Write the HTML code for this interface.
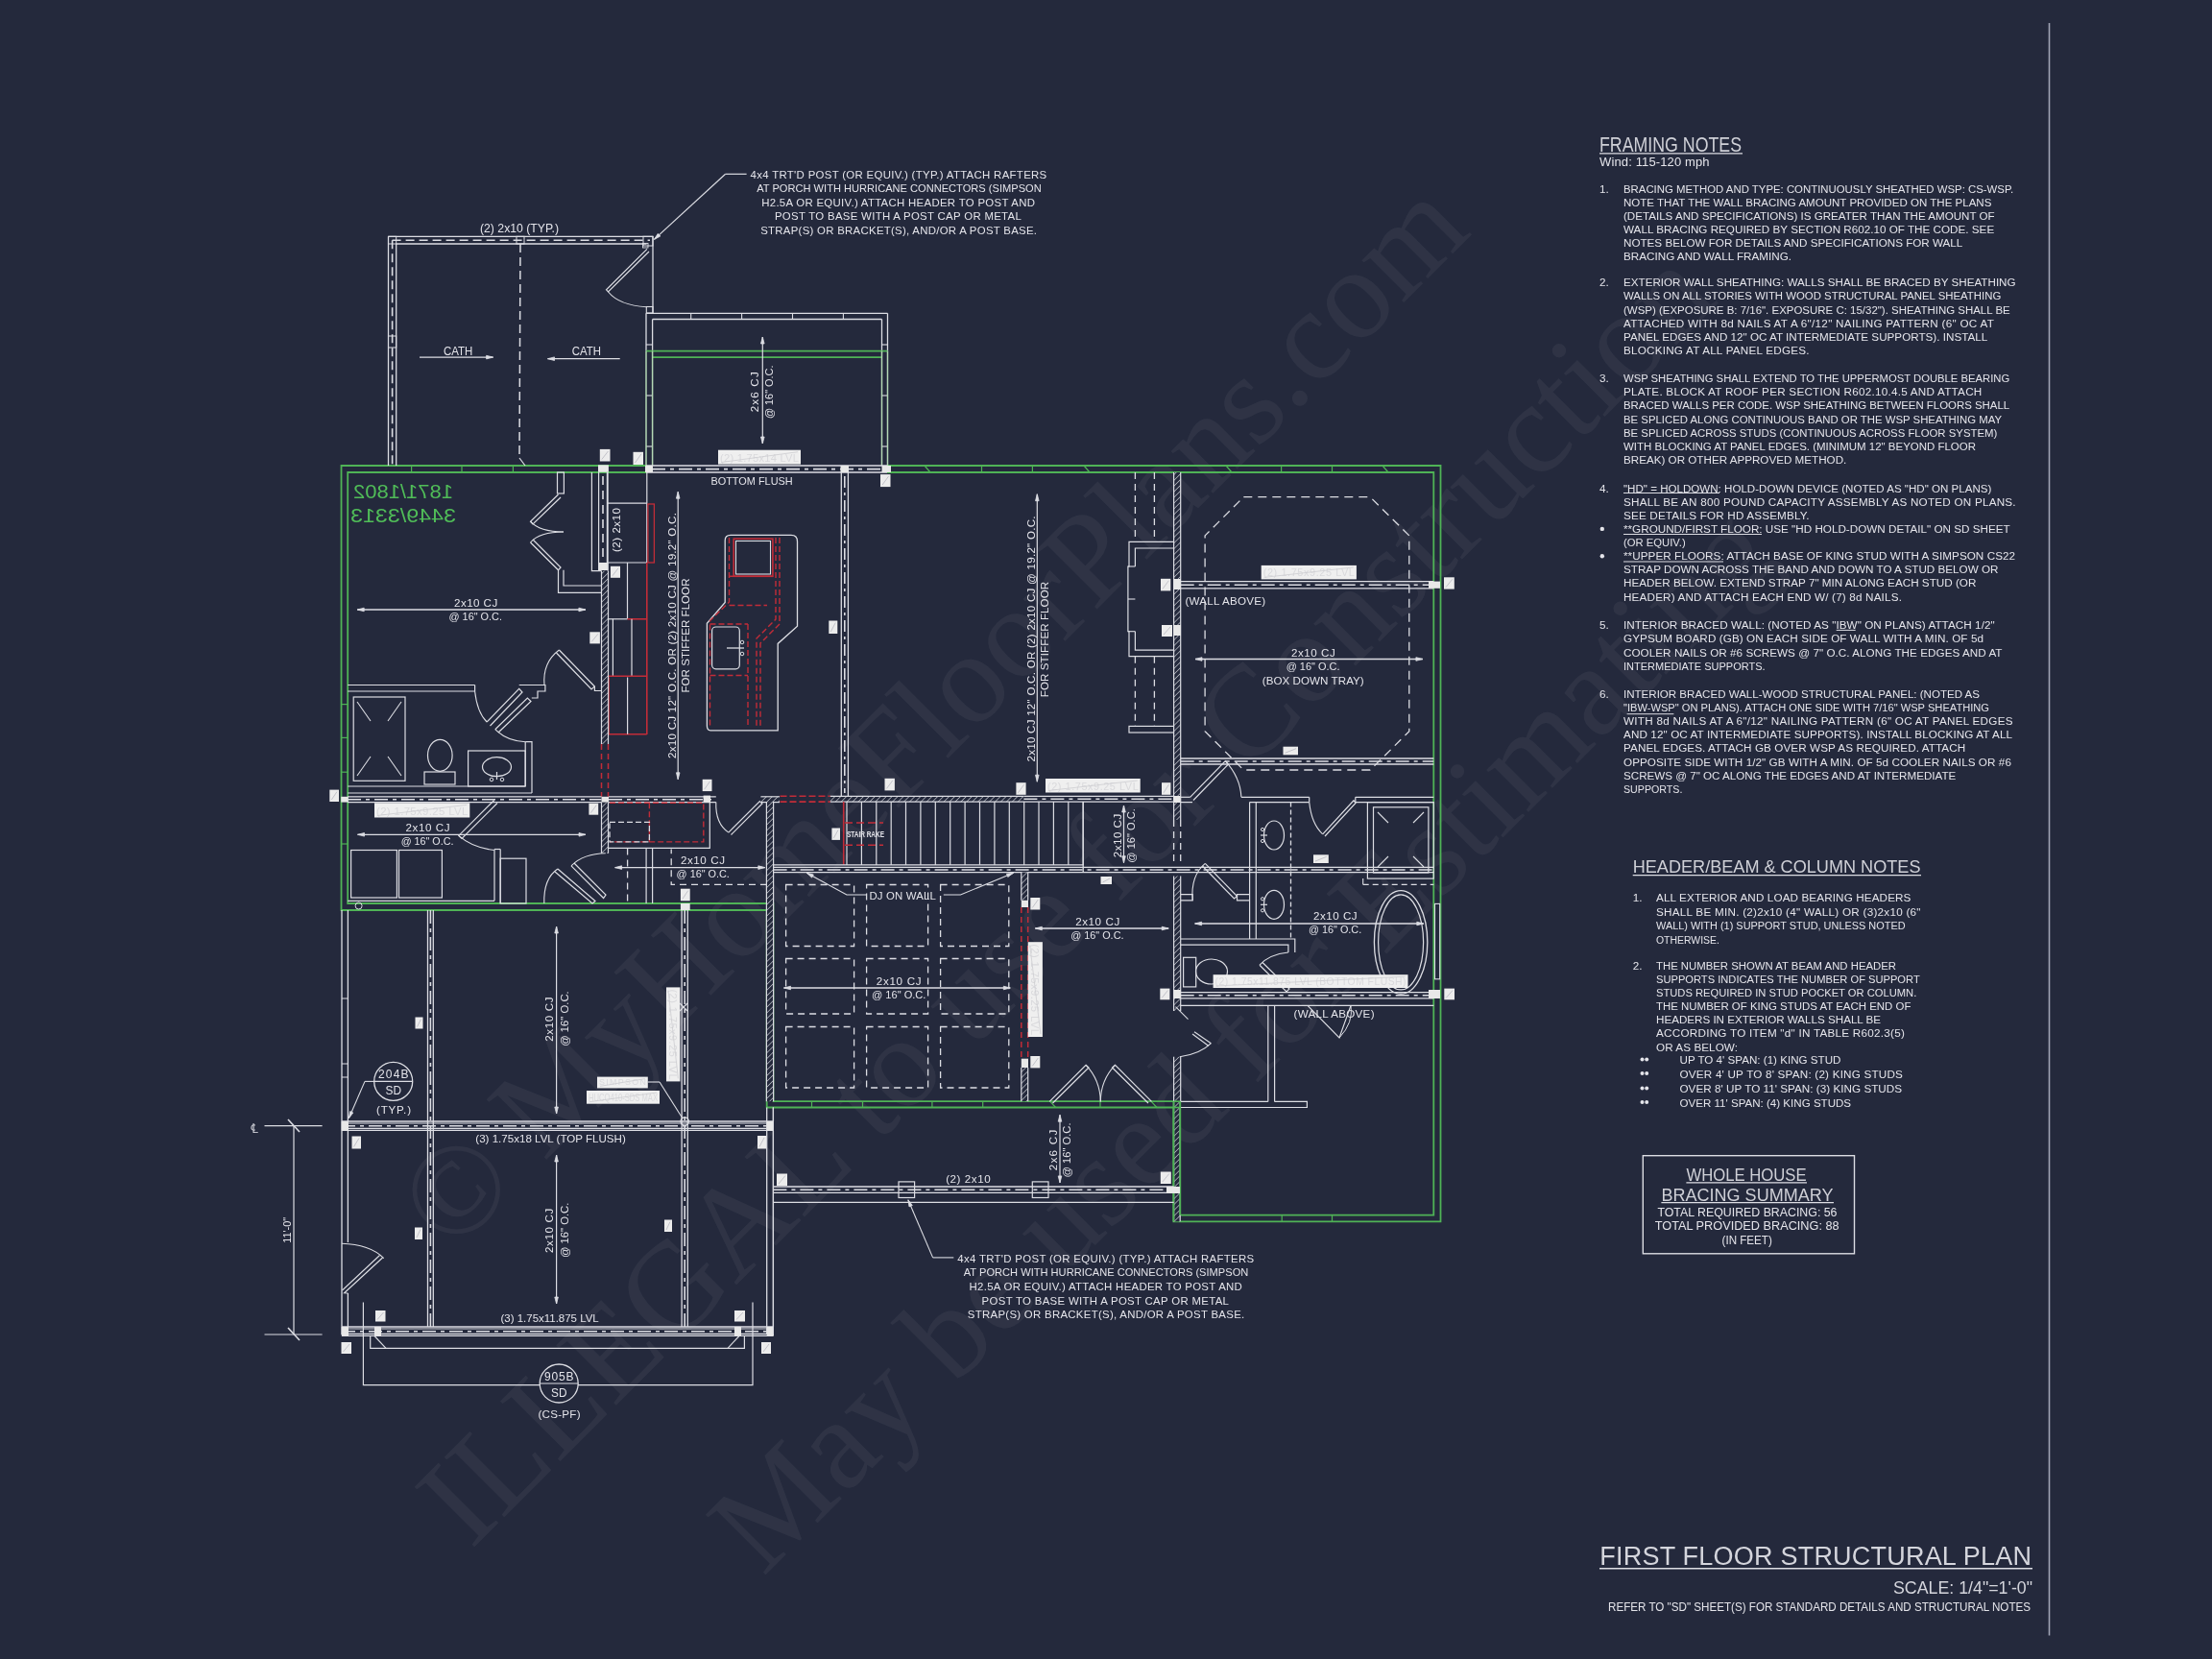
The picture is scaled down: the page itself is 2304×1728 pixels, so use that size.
<!DOCTYPE html>
<html><head><meta charset="utf-8"><style>
html,body{margin:0;padding:0;background:#24293c;width:2304px;height:1728px;overflow:hidden}
svg{display:block;will-change:transform}

</style></head><body>
<svg width="2304" height="1728" viewBox="0 0 2304 1728">
<defs>
<pattern id="hatch" patternUnits="userSpaceOnUse" width="4.2" height="4.2" patternTransform="rotate(45)">
<rect width="4.2" height="4.2" fill="#24293c"/><line x1="0" y1="0" x2="0" y2="4.2" stroke="#dcdde3" stroke-width="1.2"/></pattern>
</defs>
<rect width="2304" height="1728" fill="#24293c"/>
<text x="470.2" y="1307" font-size="135" fill="#ffffff" fill-opacity="0.052" font-family="Liberation Serif" transform="rotate(-45 470.2 1307)">© MyHomeFloorPlans.com</text>
<text x="490.7" y="1614.8" font-size="135" fill="#ffffff" fill-opacity="0.052" font-family="Liberation Serif" transform="rotate(-45 490.7 1614.8)">ILLEGAL to use for Construction</text>
<text x="794.7" y="1643" font-size="135" fill="#ffffff" fill-opacity="0.052" font-family="Liberation Serif" transform="rotate(-45 794.7 1643)">May be used for Estimating</text>
<polyline points="673.0,485.0 355.5,485.0 355.5,948.0 798.7,948.0 798.7,1153.5 1222.4,1153.5 1222.4,1272.3 1500.5,1272.3 1500.5,485.0 924.0,485.0" fill="none" stroke="#4fb356" stroke-width="1.8"/>
<polyline points="673.5,492.0 362.2,492.0 362.2,941.0 805.4,941.0 805.4,1147.2 1229.2,1147.2 1229.2,1265.7 1493.3,1265.7 1493.3,492.0 924.0,492.0" fill="none" stroke="#4fb356" stroke-width="1.8"/>
<line x1="428.6" y1="485.0" x2="428.6" y2="492.0" stroke="#4fb356" stroke-width="1.2"/>
<line x1="481.0" y1="485.0" x2="481.0" y2="492.0" stroke="#4fb356" stroke-width="1.2"/>
<line x1="534.4" y1="485.0" x2="534.4" y2="492.0" stroke="#4fb356" stroke-width="1.2"/>
<line x1="1022.5" y1="485.0" x2="1022.5" y2="492.0" stroke="#4fb356" stroke-width="1.2"/>
<line x1="1075.4" y1="485.0" x2="1075.4" y2="492.0" stroke="#4fb356" stroke-width="1.2"/>
<line x1="1334.6" y1="485.0" x2="1334.6" y2="492.0" stroke="#4fb356" stroke-width="1.2"/>
<line x1="1387.5" y1="485.0" x2="1387.5" y2="492.0" stroke="#4fb356" stroke-width="1.2"/>
<line x1="963.0" y1="485.0" x2="969.0" y2="492.0" stroke="#4fb356" stroke-width="1.2"/>
<line x1="1129.0" y1="485.0" x2="1135.0" y2="492.0" stroke="#4fb356" stroke-width="1.2"/>
<line x1="1277.0" y1="485.0" x2="1283.0" y2="492.0" stroke="#4fb356" stroke-width="1.2"/>
<line x1="1440.0" y1="485.0" x2="1446.0" y2="492.0" stroke="#4fb356" stroke-width="1.2"/>
<line x1="355.5" y1="733.6" x2="362.2" y2="733.6" stroke="#4fb356" stroke-width="1.2"/>
<line x1="355.5" y1="768.4" x2="362.2" y2="768.4" stroke="#4fb356" stroke-width="1.2"/>
<line x1="355.5" y1="804.2" x2="362.2" y2="804.2" stroke="#4fb356" stroke-width="1.2"/>
<line x1="355.5" y1="879.0" x2="362.2" y2="879.0" stroke="#4fb356" stroke-width="1.2"/>
<line x1="845.5" y1="1147.2" x2="845.5" y2="1153.5" stroke="#4fb356" stroke-width="1.2"/>
<line x1="898.5" y1="1147.2" x2="898.5" y2="1153.5" stroke="#4fb356" stroke-width="1.2"/>
<line x1="970.9" y1="1147.2" x2="970.9" y2="1153.5" stroke="#4fb356" stroke-width="1.2"/>
<line x1="1023.7" y1="1147.2" x2="1023.7" y2="1153.5" stroke="#4fb356" stroke-width="1.2"/>
<line x1="1146.0" y1="1147.2" x2="1146.0" y2="1153.5" stroke="#4fb356" stroke-width="1.2"/>
<line x1="1093.6" y1="1147.2" x2="1099.6" y2="1153.5" stroke="#4fb356" stroke-width="1.2"/>
<line x1="1199.0" y1="1147.2" x2="1205.0" y2="1153.5" stroke="#4fb356" stroke-width="1.2"/>
<line x1="1335.2" y1="1265.7" x2="1335.2" y2="1272.3" stroke="#4fb356" stroke-width="1.2"/>
<line x1="1387.5" y1="1265.7" x2="1387.5" y2="1272.3" stroke="#4fb356" stroke-width="1.2"/>
<line x1="404.5" y1="246.3" x2="680.4" y2="246.3" stroke="#dcdde3" stroke-width="1.3"/>
<line x1="404.5" y1="246.3" x2="404.5" y2="485.0" stroke="#dcdde3" stroke-width="1.3"/>
<line x1="412.7" y1="254.0" x2="673.6" y2="254.0" stroke="#dcdde3" stroke-width="1.3"/>
<line x1="412.7" y1="254.0" x2="412.7" y2="485.0" stroke="#dcdde3" stroke-width="1.3"/>
<line x1="408.6" y1="250.2" x2="677.0" y2="250.2" stroke="#dcdde3" stroke-width="1.6" stroke-dasharray="9 5"/>
<line x1="408.6" y1="250.2" x2="408.6" y2="485.0" stroke="#dcdde3" stroke-width="1.6" stroke-dasharray="9 5"/>
<rect x="404.5" y="246.3" width="8.2" height="7.7" fill="none" stroke="#dcdde3" stroke-width="1.0"/>
<rect x="670.0" y="246.3" width="10.0" height="9.7" fill="none" stroke="#dcdde3" stroke-width="1.0"/>
<rect x="669.5" y="253.4" width="5.5" height="4.6" fill="none" stroke="#dcdde3" stroke-width="0.9"/>
<rect x="538.0" y="246.3" width="8.0" height="7.7" fill="none" stroke="#dcdde3" stroke-width="1.0"/>
<line x1="680.0" y1="246.3" x2="680.0" y2="326.0" stroke="#dcdde3" stroke-width="1.3"/>
<rect x="673.3" y="319.5" width="6.7" height="6.5" fill="none" stroke="#dcdde3" stroke-width="1.1"/>
<rect x="404.5" y="350.0" width="8.2" height="12.0" fill="none" stroke="#dcdde3" stroke-width="1.0"/>
<line x1="542.0" y1="254.0" x2="541.0" y2="477.0" stroke="#dcdde3" stroke-width="1.5" stroke-dasharray="9 5"/>
<line x1="541.0" y1="477.0" x2="547.0" y2="485.0" stroke="#dcdde3" stroke-width="1.2"/>
<polyline points="674.0,259.4 631.5,301.8 633.5,304.0 676.0,262.0" fill="none" stroke="#dcdde3" stroke-width="1.2"/>
<path d="M 633.5 304 Q 645 318 673.3 319.7" fill="none" stroke="#dcdde3" stroke-width="1.1"/>
<text x="500.0" y="242.0" font-size="12.8" fill="#e4e4ea" font-family="Liberation Sans" font-weight="normal" text-anchor="start" textLength="82.0" lengthAdjust="spacingAndGlyphs">(2) 2x10 (TYP.)</text>
<text x="462.0" y="369.7" font-size="12.6" fill="#e4e4ea" font-family="Liberation Sans" font-weight="normal" text-anchor="start" textLength="30.4" lengthAdjust="spacingAndGlyphs">CATH</text>
<line x1="437.0" y1="372.1" x2="513.6" y2="372.1" stroke="#dcdde3" stroke-width="1.2"/>
<polygon points="513.6,372.1 506.6,373.9 506.6,370.3" fill="#dcdde3" stroke="#dcdde3" stroke-width="0.8"/>
<text x="595.8" y="369.7" font-size="12.6" fill="#e4e4ea" font-family="Liberation Sans" font-weight="normal" text-anchor="start" textLength="30.2" lengthAdjust="spacingAndGlyphs">CATH</text>
<line x1="645.7" y1="373.7" x2="570.5" y2="373.7" stroke="#dcdde3" stroke-width="1.2"/>
<polygon points="570.5,373.7 577.5,371.9 577.5,375.5" fill="#dcdde3" stroke="#dcdde3" stroke-width="0.8"/>
<line x1="755.6" y1="181.3" x2="777.6" y2="181.3" stroke="#dcdde3" stroke-width="1.2"/>
<line x1="755.6" y1="181.3" x2="681.4" y2="249.4" stroke="#dcdde3" stroke-width="1.2"/>
<polygon points="681.4,249.4 685.3,243.3 687.8,246.0" fill="#dcdde3" stroke="#dcdde3" stroke-width="0.8"/>
<text x="781.6" y="185.9" font-size="11.4" fill="#e4e4ea" font-family="Liberation Sans" font-weight="normal" text-anchor="start" textLength="308.6" lengthAdjust="spacing">4x4 TRT'D POST (OR EQUIV.) (TYP.) ATTACH RAFTERS</text>
<text x="788.2" y="200.4" font-size="11.4" fill="#e4e4ea" font-family="Liberation Sans" font-weight="normal" text-anchor="start" textLength="296.5" lengthAdjust="spacingAndGlyphs">AT PORCH WITH HURRICANE CONNECTORS (SIMPSON</text>
<text x="793.2" y="214.9" font-size="11.4" fill="#e4e4ea" font-family="Liberation Sans" font-weight="normal" text-anchor="start" textLength="284.8" lengthAdjust="spacing">H2.5A OR EQUIV.) ATTACH HEADER TO POST AND</text>
<text x="806.9" y="229.4" font-size="11.4" fill="#e4e4ea" font-family="Liberation Sans" font-weight="normal" text-anchor="start" textLength="256.9" lengthAdjust="spacing">POST TO BASE WITH A POST CAP OR METAL</text>
<text x="792.2" y="243.9" font-size="11.4" fill="#e4e4ea" font-family="Liberation Sans" font-weight="normal" text-anchor="start" textLength="287.8" lengthAdjust="spacing">STRAP(S) OR BRACKET(S), AND/OR A POST BASE.</text>
<line x1="673.0" y1="326.3" x2="924.5" y2="326.3" stroke="#dcdde3" stroke-width="1.3"/>
<line x1="679.6" y1="332.5" x2="918.5" y2="332.5" stroke="#dcdde3" stroke-width="1.3"/>
<line x1="673.0" y1="326.3" x2="673.0" y2="365.6" stroke="#dcdde3" stroke-width="1.3"/>
<line x1="924.5" y1="326.3" x2="924.5" y2="365.6" stroke="#dcdde3" stroke-width="1.3"/>
<line x1="679.6" y1="332.5" x2="679.6" y2="365.6" stroke="#dcdde3" stroke-width="1.3"/>
<line x1="918.5" y1="332.5" x2="918.5" y2="365.6" stroke="#dcdde3" stroke-width="1.3"/>
<line x1="719.7" y1="326.3" x2="719.7" y2="332.5" stroke="#dcdde3" stroke-width="1.1"/>
<line x1="772.6" y1="326.3" x2="772.6" y2="332.5" stroke="#dcdde3" stroke-width="1.1"/>
<line x1="825.5" y1="326.3" x2="825.5" y2="332.5" stroke="#dcdde3" stroke-width="1.1"/>
<line x1="878.4" y1="326.3" x2="878.4" y2="332.5" stroke="#dcdde3" stroke-width="1.1"/>
<line x1="673.0" y1="359.0" x2="679.6" y2="359.0" stroke="#dcdde3" stroke-width="1.1"/>
<line x1="918.5" y1="359.0" x2="924.5" y2="359.0" stroke="#dcdde3" stroke-width="1.1"/>
<line x1="673.0" y1="412.0" x2="679.6" y2="412.0" stroke="#dcdde3" stroke-width="1.1"/>
<line x1="918.5" y1="412.0" x2="924.5" y2="412.0" stroke="#dcdde3" stroke-width="1.1"/>
<line x1="673.0" y1="465.0" x2="679.6" y2="465.0" stroke="#dcdde3" stroke-width="1.1"/>
<line x1="918.5" y1="465.0" x2="924.5" y2="465.0" stroke="#dcdde3" stroke-width="1.1"/>
<line x1="673.0" y1="365.6" x2="924.5" y2="365.6" stroke="#4fb356" stroke-width="1.8"/>
<line x1="679.6" y1="372.1" x2="918.5" y2="372.1" stroke="#4fb356" stroke-width="1.8"/>
<line x1="673.0" y1="365.6" x2="673.0" y2="485.0" stroke="#b5d9b5" stroke-width="1.5"/>
<line x1="679.6" y1="365.6" x2="679.6" y2="485.0" stroke="#b5d9b5" stroke-width="1.5"/>
<line x1="924.5" y1="365.6" x2="924.5" y2="485.0" stroke="#b5d9b5" stroke-width="1.5"/>
<line x1="918.5" y1="365.6" x2="918.5" y2="485.0" stroke="#b5d9b5" stroke-width="1.5"/>
<line x1="794.3" y1="351.0" x2="794.3" y2="462.0" stroke="#dcdde3" stroke-width="1.2"/>
<polygon points="794.3,351.0 796.1,358.0 792.5,358.0" fill="#dcdde3" stroke="#dcdde3" stroke-width="0.8"/>
<polygon points="794.3,462.0 792.5,455.0 796.1,455.0" fill="#dcdde3" stroke="#dcdde3" stroke-width="0.8"/>
<rect x="748.0" y="468.7" width="86.0" height="14.9" fill="#efefef"/>
<text x="750.0" y="480.6" font-size="11.175000000000026" fill="#d9d9dc" font-family="Liberation Sans" font-weight="normal" text-anchor="start" textLength="82.0" lengthAdjust="spacing">(2) 1.75x14 LVL</text>
<line x1="751.0" y1="481.6" x2="831.0" y2="470.7" stroke="#cdcdd0" stroke-width="0.8"/>
<rect x="624.8" y="467.9" width="10.7" height="12.6" fill="#ececec"/>
<line x1="626.8" y1="478.5" x2="633.5" y2="469.9" stroke="#b8b8c0" stroke-width="0.8"/>
<rect x="659.5" y="470.8" width="10.5" height="13.2" fill="#ececec"/>
<line x1="661.5" y1="482.0" x2="668.0" y2="472.8" stroke="#b8b8c0" stroke-width="0.8"/>
<line x1="673.0" y1="485.0" x2="924.0" y2="485.0" stroke="#dcdde3" stroke-width="1.4"/>
<line x1="673.0" y1="492.0" x2="924.0" y2="492.0" stroke="#dcdde3" stroke-width="1.4"/>
<line x1="679.0" y1="488.6" x2="918.0" y2="488.6" stroke="#dcdde3" stroke-width="1.6" stroke-dasharray="14 5 4 5"/>
<rect x="672.0" y="485.0" width="8.0" height="7.0" fill="#e8e8e8"/>
<rect x="918.5" y="485.0" width="9.5" height="7.0" fill="#e8e8e8"/>
<rect x="917.0" y="494.1" width="10.5" height="13.0" fill="#ececec"/>
<line x1="919.0" y1="505.1" x2="925.5" y2="496.1" stroke="#b8b8c0" stroke-width="0.8"/>
<g transform="translate(790.4 408.3) rotate(-90)"><text x="-21.0" y="0" font-size="11.6" fill="#e4e4ea" font-family="Liberation Sans" textLength="42.0" lengthAdjust="spacing">2x6 CJ</text></g>
<g transform="translate(805.1 408.3) rotate(-90)"><text x="-27.8" y="0" font-size="11.6" fill="#e4e4ea" font-family="Liberation Sans" textLength="55.6" lengthAdjust="spacingAndGlyphs">@ 16" O.C.</text></g>
<g transform="translate(472.0 0) scale(-1 1)"><text x="0" y="518.8" font-size="20" fill="#50bd58" font-family="Liberation Sans" textLength="104.0" lengthAdjust="spacingAndGlyphs">1871/1802</text></g>
<g transform="translate(475.0 0) scale(-1 1)"><text x="0" y="544.0" font-size="20" fill="#50bd58" font-family="Liberation Sans" textLength="110.0" lengthAdjust="spacingAndGlyphs">3449/3313</text></g>
<rect x="580.5" y="492.0" width="6.9" height="22.0" fill="none" stroke="#dcdde3" stroke-width="1.2"/>
<polyline points="581.5,515.0 552.5,543.2 555.0,546.0 584.0,518.0" fill="none" stroke="#dcdde3" stroke-width="1.2"/>
<path d="M 552.5 543.2 Q 562 554 587 554" fill="none" stroke="#dcdde3" stroke-width="1.1"/>
<path d="M 552.5 565 Q 562 554 587 554" fill="none" stroke="#dcdde3" stroke-width="1.1"/>
<polyline points="552.5,565.0 581.5,593.8 584.0,591.0 555.0,562.0" fill="none" stroke="#dcdde3" stroke-width="1.2"/>
<polyline points="581.5,593.8 581.5,617.4 626.7,617.4" fill="none" stroke="#dcdde3" stroke-width="1.2"/>
<polyline points="587.0,593.8 587.0,610.0 626.7,610.0" fill="none" stroke="#dcdde3" stroke-width="1.2"/>
<polyline points="616.4,492.0 616.4,594.7 626.7,594.7" fill="none" stroke="#dcdde3" stroke-width="1.2"/>
<line x1="623.6" y1="492.0" x2="623.6" y2="594.0" stroke="#dcdde3" stroke-width="1.2"/>
<line x1="632.4" y1="492.0" x2="632.4" y2="594.0" stroke="#dcdde3" stroke-width="1.2"/>
<line x1="628.0" y1="496.0" x2="628.0" y2="590.0" stroke="#dcdde3" stroke-width="1.6" stroke-dasharray="9 6"/>
<rect x="623.0" y="484.3" width="10.9" height="7.5" fill="#e8e8e8"/>
<rect x="624.0" y="586.0" width="9.5" height="8.0" fill="#e8e8e8"/>
<line x1="633.1" y1="492.0" x2="633.1" y2="586.0" stroke="#dcdde3" stroke-width="1.2"/>
<line x1="673.8" y1="492.0" x2="673.8" y2="586.0" stroke="#dcdde3" stroke-width="1.2"/>
<line x1="633.1" y1="524.2" x2="673.8" y2="524.2" stroke="#dcdde3" stroke-width="1.2"/>
<line x1="633.1" y1="586.0" x2="673.8" y2="586.0" stroke="#dcdde3" stroke-width="1.2"/>
<g transform="translate(646.4 552.0) rotate(-90)"><text x="-23.0" y="0" font-size="11.6" fill="#e4e4ea" font-family="Liberation Sans" textLength="46.0" lengthAdjust="spacing">(2) 2x10</text></g>
<rect x="674.9" y="525.0" width="6.5" height="61.0" fill="none" stroke="#c22c38" stroke-width="1.3"/>
<line x1="653.5" y1="586.0" x2="653.5" y2="644.8" stroke="#dcdde3" stroke-width="1.2"/>
<line x1="633.1" y1="586.0" x2="633.1" y2="644.8" stroke="#dcdde3" stroke-width="1.2"/>
<line x1="633.1" y1="644.8" x2="653.5" y2="644.8" stroke="#dcdde3" stroke-width="1.2"/>
<line x1="653.5" y1="644.8" x2="673.8" y2="644.8" stroke="#c22c38" stroke-width="1.6"/>
<line x1="673.8" y1="586.0" x2="673.8" y2="765.0" stroke="#c22c38" stroke-width="1.6"/>
<line x1="638.4" y1="644.8" x2="638.4" y2="704.3" stroke="#dcdde3" stroke-width="1.2"/>
<line x1="658.0" y1="644.8" x2="658.0" y2="704.3" stroke="#dcdde3" stroke-width="1.2"/>
<line x1="633.1" y1="704.3" x2="673.8" y2="704.3" stroke="#c22c38" stroke-width="1.6"/>
<line x1="634.0" y1="705.4" x2="634.0" y2="764.7" stroke="#c22c38" stroke-width="1.6"/>
<line x1="634.0" y1="764.7" x2="673.8" y2="764.7" stroke="#c22c38" stroke-width="1.6"/>
<line x1="653.6" y1="705.4" x2="653.6" y2="764.7" stroke="#dcdde3" stroke-width="1.2"/>
<rect x="635.9" y="589.8" width="10.1" height="12.0" fill="#ececec"/>
<line x1="637.9" y1="599.8" x2="644.0" y2="591.8" stroke="#b8b8c0" stroke-width="0.8"/>
<rect x="614.3" y="658.3" width="10.6" height="12.1" fill="#ececec"/>
<line x1="616.3" y1="668.4" x2="622.9" y2="660.3" stroke="#b8b8c0" stroke-width="0.8"/>
<rect x="626.5" y="658.0" width="6.5" height="9.0" fill="#e8e8e8"/>
<rect x="626.5" y="594.7" width="7.0" height="180.3" fill="url(#hatch)"/>
<line x1="626.5" y1="594.7" x2="626.5" y2="775.0" stroke="#dcdde3" stroke-width="1.2"/>
<line x1="633.5" y1="594.7" x2="633.5" y2="775.0" stroke="#dcdde3" stroke-width="1.2"/>
<line x1="626.5" y1="775.0" x2="626.5" y2="829.8" stroke="#c22c38" stroke-width="1.5" stroke-dasharray="6 4"/>
<line x1="633.5" y1="775.0" x2="633.5" y2="829.8" stroke="#c22c38" stroke-width="1.5" stroke-dasharray="6 4"/>
<rect x="626.5" y="835.6" width="7.0" height="53.2" fill="url(#hatch)"/>
<line x1="626.5" y1="835.6" x2="626.5" y2="888.8" stroke="#dcdde3" stroke-width="1.2"/>
<line x1="633.5" y1="835.6" x2="633.5" y2="888.8" stroke="#dcdde3" stroke-width="1.2"/>
<rect x="626.5" y="829.8" width="7.5" height="5.8" fill="#e8e8e8"/>
<text x="473.0" y="631.8" font-size="11.6" fill="#e4e4ea" font-family="Liberation Sans" font-weight="normal" text-anchor="start" textLength="45.2" lengthAdjust="spacing">2x10 CJ</text>
<line x1="372.2" y1="635.0" x2="609.9" y2="635.0" stroke="#dcdde3" stroke-width="1.3"/>
<polygon points="609.9,635.0 602.9,636.8 602.9,633.2" fill="#dcdde3" stroke="#dcdde3" stroke-width="0.8"/>
<polygon points="372.2,635.0 379.2,633.2 379.2,636.8" fill="#dcdde3" stroke="#dcdde3" stroke-width="0.8"/>
<text x="467.5" y="646.3" font-size="11.6" fill="#e4e4ea" font-family="Liberation Sans" font-weight="normal" text-anchor="start" textLength="55.5" lengthAdjust="spacingAndGlyphs">@ 16" O.C.</text>
<polyline points="582.4,677.0 619.4,715.0 616.0,718.0 579.5,680.0" fill="none" stroke="#dcdde3" stroke-width="1.2"/>
<path d="M 582.4 677 Q 565 690 567 713.5" fill="none" stroke="#dcdde3" stroke-width="1.1"/>
<polyline points="619.4,715.0 619.4,719.5 626.5,719.5" fill="none" stroke="#dcdde3" stroke-width="1.2"/>
<line x1="362.2" y1="713.5" x2="494.6" y2="713.5" stroke="#dcdde3" stroke-width="1.2"/>
<line x1="362.2" y1="720.0" x2="494.6" y2="720.0" stroke="#dcdde3" stroke-width="1.2"/>
<line x1="494.6" y1="713.5" x2="494.6" y2="720.0" stroke="#dcdde3" stroke-width="1.2"/>
<path d="M 494.6 720 Q 497 742 507.1 752" fill="none" stroke="#dcdde3" stroke-width="1.1"/>
<polyline points="507.1,752.0 540.7,717.4 544.0,721.0 510.5,756.0" fill="none" stroke="#dcdde3" stroke-width="1.2"/>
<polyline points="540.7,713.5 567.9,713.5 567.9,720.0 560.0,720.0 560.0,727.0 553.8,727.0" fill="none" stroke="#dcdde3" stroke-width="1.2"/>
<polyline points="515.8,759.7 549.4,727.1 553.0,730.5 519.0,763.0" fill="none" stroke="#dcdde3" stroke-width="1.2"/>
<path d="M 515.8 759.7 Q 528 772 547.2 772.7" fill="none" stroke="#dcdde3" stroke-width="1.1"/>
<polyline points="547.2,772.7 554.0,772.7 554.0,826.0" fill="none" stroke="#dcdde3" stroke-width="1.2"/>
<line x1="547.2" y1="772.7" x2="547.2" y2="819.0" stroke="#dcdde3" stroke-width="1.2"/>
<line x1="362.2" y1="819.0" x2="547.2" y2="819.0" stroke="#dcdde3" stroke-width="1.2"/>
<line x1="362.2" y1="826.0" x2="554.0" y2="826.0" stroke="#dcdde3" stroke-width="1.2"/>
<rect x="368.2" y="726.0" width="53.8" height="87.3" fill="none" stroke="#dcdde3" stroke-width="1.2"/>
<line x1="372.0" y1="731.0" x2="386.0" y2="751.0" stroke="#dcdde3" stroke-width="1.1"/>
<line x1="418.0" y1="731.0" x2="404.0" y2="751.0" stroke="#dcdde3" stroke-width="1.1"/>
<line x1="372.0" y1="808.0" x2="386.0" y2="788.0" stroke="#dcdde3" stroke-width="1.1"/>
<line x1="418.0" y1="808.0" x2="404.0" y2="788.0" stroke="#dcdde3" stroke-width="1.1"/>
<ellipse cx="458.3" cy="786.8" rx="12.8" ry="16.5" fill="none" stroke="#dcdde3" stroke-width="1.2"/>
<rect x="442.0" y="804.0" width="32.0" height="13.0" fill="none" stroke="#dcdde3" stroke-width="1.2"/>
<rect x="487.6" y="782.0" width="59.6" height="37.0" fill="none" stroke="#dcdde3" stroke-width="1.2"/>
<ellipse cx="517.5" cy="798.7" rx="15.0" ry="10.0" fill="none" stroke="#dcdde3" stroke-width="1.2"/>
<line x1="517.5" y1="804.0" x2="517.5" y2="812.0" stroke="#dcdde3" stroke-width="1.2"/>
<circle cx="512.0" cy="812.0" r="1.8" fill="none" stroke="#dcdde3" stroke-width="1"/>
<circle cx="523.0" cy="812.0" r="1.8" fill="none" stroke="#dcdde3" stroke-width="1"/>
<rect x="343.3" y="822.6" width="9.7" height="12.4" fill="#ececec"/>
<line x1="345.3" y1="833.0" x2="351.0" y2="824.6" stroke="#b8b8c0" stroke-width="0.8"/>
<rect x="355.2" y="829.8" width="7.6" height="5.8" fill="#e8e8e8"/>
<line x1="362.0" y1="829.8" x2="626.5" y2="829.8" stroke="#dcdde3" stroke-width="1.3"/>
<line x1="362.0" y1="835.6" x2="626.5" y2="835.6" stroke="#dcdde3" stroke-width="1.3"/>
<line x1="362.0" y1="832.7" x2="626.5" y2="832.7" stroke="#dcdde3" stroke-width="1.6" stroke-dasharray="14 5 4 5"/>
<line x1="634.0" y1="829.8" x2="745.8" y2="829.8" stroke="#dcdde3" stroke-width="1.3"/>
<line x1="634.0" y1="835.6" x2="745.8" y2="835.6" stroke="#dcdde3" stroke-width="1.3"/>
<line x1="634.0" y1="832.7" x2="745.8" y2="832.7" stroke="#dcdde3" stroke-width="1.6" stroke-dasharray="14 5 4 5"/>
<rect x="390.0" y="836.3" width="99.3" height="15.2" fill="#efefef"/>
<text x="392.0" y="848.5" font-size="11.400000000000034" fill="#d9d9dc" font-family="Liberation Sans" font-weight="normal" text-anchor="start" textLength="95.3" lengthAdjust="spacing">(2) 1.75x9.25 LVL</text>
<line x1="393.0" y1="849.5" x2="486.3" y2="838.3" stroke="#cdcdd0" stroke-width="0.8"/>
<rect x="613.4" y="836.7" width="9.8" height="12.0" fill="#ececec"/>
<line x1="615.4" y1="846.7" x2="621.2" y2="838.7" stroke="#b8b8c0" stroke-width="0.8"/>
<rect x="365.6" y="885.5" width="47.8" height="49.5" fill="none" stroke="#dcdde3" stroke-width="1.2"/>
<rect x="415.5" y="885.5" width="44.9" height="49.5" fill="none" stroke="#dcdde3" stroke-width="1.2"/>
<line x1="362.2" y1="938.3" x2="515.0" y2="938.3" stroke="#dcdde3" stroke-width="1.2"/>
<line x1="515.0" y1="884.5" x2="515.0" y2="938.3" stroke="#dcdde3" stroke-width="1.2"/>
<line x1="521.2" y1="884.5" x2="521.2" y2="941.0" stroke="#dcdde3" stroke-width="1.2"/>
<line x1="515.0" y1="884.5" x2="521.2" y2="884.5" stroke="#dcdde3" stroke-width="1.2"/>
<rect x="521.2" y="894.2" width="26.8" height="46.8" fill="none" stroke="#dcdde3" stroke-width="1.2"/>
<polyline points="514.7,833.5 477.8,870.4 481.0,873.5 518.0,836.5" fill="none" stroke="#dcdde3" stroke-width="1.2"/>
<path d="M 477.8 870.4 Q 492 883 514.7 885.5" fill="none" stroke="#dcdde3" stroke-width="1.1"/>
<circle cx="373.6" cy="943.5" r="3.5" fill="none" stroke="#dcdde3" stroke-width="1.0"/>
<text x="422.5" y="866.0" font-size="11.6" fill="#e4e4ea" font-family="Liberation Sans" font-weight="normal" text-anchor="start" textLength="46.0" lengthAdjust="spacing">2x10 CJ</text>
<line x1="372.5" y1="869.3" x2="610.0" y2="869.3" stroke="#dcdde3" stroke-width="1.3"/>
<polygon points="610.0,869.3 603.0,871.1 603.0,867.5" fill="#dcdde3" stroke="#dcdde3" stroke-width="0.8"/>
<polygon points="372.5,869.3 379.5,867.5 379.5,871.1" fill="#dcdde3" stroke="#dcdde3" stroke-width="0.8"/>
<text x="417.7" y="880.0" font-size="11.6" fill="#e4e4ea" font-family="Liberation Sans" font-weight="normal" text-anchor="start" textLength="54.7" lengthAdjust="spacingAndGlyphs">@ 16" O.C.</text>
<path d="M 566.8 941 Q 566 915 580.9 905" fill="none" stroke="#dcdde3" stroke-width="1.1"/>
<polyline points="580.9,905.0 620.0,938.5 617.0,941.0 578.0,908.0" fill="none" stroke="#dcdde3" stroke-width="1.2"/>
<path d="M 595 901.8 Q 608 889 630.8 888.8" fill="none" stroke="#dcdde3" stroke-width="1.1"/>
<polyline points="595.0,901.8 628.6,935.5 631.0,932.0 598.0,899.0" fill="none" stroke="#dcdde3" stroke-width="1.2"/>
<text x="740.4" y="504.7" font-size="11.6" fill="#e4e4ea" font-family="Liberation Sans" font-weight="normal" text-anchor="start" textLength="85.3" lengthAdjust="spacingAndGlyphs">BOTTOM FLUSH</text>
<g transform="translate(703.6 662.0) rotate(-90)"><text x="-127.9" y="0" font-size="11.6" fill="#e4e4ea" font-family="Liberation Sans" textLength="255.8" lengthAdjust="spacing">2x10 CJ 12" O.C. OR (2) 2x10 CJ @ 19.2" O.C.</text></g>
<g transform="translate(717.9 662.0) rotate(-90)"><text x="-59.5" y="0" font-size="11.6" fill="#e4e4ea" font-family="Liberation Sans" textLength="119.0" lengthAdjust="spacingAndGlyphs">FOR STIFFER FLOOR</text></g>
<line x1="706.2" y1="512.2" x2="706.2" y2="811.8" stroke="#dcdde3" stroke-width="1.2"/>
<polygon points="706.2,512.2 708.0,519.2 704.4,519.2" fill="#dcdde3" stroke="#dcdde3" stroke-width="0.8"/>
<polygon points="706.2,811.8 704.4,804.8 708.0,804.8" fill="#dcdde3" stroke="#dcdde3" stroke-width="0.8"/>
<path d="M 755.2 627.5 L 755.2 563 Q 755.2 557.4 761 557.4 L 824 557.4 Q 830.5 557.4 830.5 564 L 830.5 652.3 L 810.2 670.4 L 810.2 760.8 L 740 760.8 Q 736.4 760.8 736.4 756 L 736.4 649.3 Z" fill="none" stroke="#dcdde3" stroke-width="1.3"/>
<rect x="764.2" y="561.2" width="40.7" height="39.1" fill="none" stroke="#c22c38" stroke-width="1.6"/>
<rect x="766.5" y="563.5" width="36.0" height="34.5" fill="none" stroke="#dcdde3" stroke-width="1.1"/>
<path d="M 759.5 560 L 759.5 627 L 739.5 646.5 L 739.5 757" fill="none" stroke="#c22c38" stroke-width="1.4" stroke-dasharray="6 3"/>
<path d="M 808 560 L 808 645 L 788 665 L 788 757" fill="none" stroke="#c22c38" stroke-width="1.4" stroke-dasharray="6 3"/>
<path d="M 812 560 L 812 650 L 792 670 L 792 757" fill="none" stroke="#c22c38" stroke-width="1.4" stroke-dasharray="6 3"/>
<line x1="759.5" y1="600.3" x2="804.9" y2="600.3" stroke="#c22c38" stroke-width="1.4"/>
<line x1="759.5" y1="630.5" x2="799.0" y2="630.5" stroke="#c22c38" stroke-width="1.4" stroke-dasharray="6 3"/>
<line x1="739.5" y1="650.0" x2="779.0" y2="650.0" stroke="#c22c38" stroke-width="1.4" stroke-dasharray="6 3"/>
<line x1="739.5" y1="703.5" x2="779.0" y2="703.5" stroke="#c22c38" stroke-width="1.4" stroke-dasharray="6 3"/>
<line x1="779.0" y1="650.0" x2="779.0" y2="757.0" stroke="#c22c38" stroke-width="1.4" stroke-dasharray="6 3"/>
<rect x="741.6" y="653.0" width="28.7" height="43.8" fill="none" stroke="#dcdde3" stroke-width="1.2" rx="4"/>
<line x1="757.0" y1="675.0" x2="775.0" y2="675.0" stroke="#dcdde3" stroke-width="1.3"/>
<circle cx="773.0" cy="669.0" r="1.8" fill="none" stroke="#dcdde3" stroke-width="1"/>
<circle cx="773.0" cy="681.0" r="1.8" fill="none" stroke="#dcdde3" stroke-width="1"/>
<line x1="876.3" y1="492.0" x2="876.3" y2="830.0" stroke="#dcdde3" stroke-width="1.3"/>
<line x1="883.4" y1="492.0" x2="883.4" y2="830.0" stroke="#dcdde3" stroke-width="1.3"/>
<line x1="879.8" y1="496.0" x2="879.8" y2="826.0" stroke="#dcdde3" stroke-width="1.6" stroke-dasharray="12 5 3 5"/>
<rect x="875.5" y="485.0" width="8.5" height="7.0" fill="#e8e8e8"/>
<rect x="863.3" y="646.5" width="9.0" height="13.5" fill="#ececec"/>
<line x1="865.3" y1="658.0" x2="870.3" y2="648.5" stroke="#b8b8c0" stroke-width="0.8"/>
<g transform="translate(1078.0 665.5) rotate(-90)"><text x="-128.0" y="0" font-size="11.6" fill="#e4e4ea" font-family="Liberation Sans" textLength="256.0" lengthAdjust="spacing">2x10 CJ 12" O.C. OR (2) 2x10 CJ @ 19.2" O.C.</text></g>
<g transform="translate(1091.6 666.0) rotate(-90)"><text x="-60.2" y="0" font-size="11.6" fill="#e4e4ea" font-family="Liberation Sans" textLength="120.4" lengthAdjust="spacing">FOR STIFFER FLOOR</text></g>
<line x1="1080.3" y1="514.7" x2="1080.3" y2="814.2" stroke="#dcdde3" stroke-width="1.2"/>
<polygon points="1080.3,514.7 1082.1,521.7 1078.5,521.7" fill="#dcdde3" stroke="#dcdde3" stroke-width="0.8"/>
<polygon points="1080.3,814.2 1078.5,807.2 1082.1,807.2" fill="#dcdde3" stroke="#dcdde3" stroke-width="0.8"/>
<rect x="1089.0" y="811.0" width="98.7" height="14.5" fill="#efefef"/>
<text x="1091.0" y="822.5" font-size="10.875" fill="#d9d9dc" font-family="Liberation Sans" font-weight="normal" text-anchor="start" textLength="94.7" lengthAdjust="spacing">(2) 1.75x9.25 LVL</text>
<line x1="1092.0" y1="823.5" x2="1184.7" y2="813.0" stroke="#cdcdd0" stroke-width="0.8"/>
<rect x="921.5" y="810.8" width="10.4" height="12.6" fill="#ececec"/>
<line x1="923.5" y1="821.4" x2="929.9" y2="812.8" stroke="#b8b8c0" stroke-width="0.8"/>
<rect x="921.4" y="829.0" width="10.4" height="6.3" fill="#e8e8e8"/>
<rect x="1058.4" y="815.2" width="10.2" height="12.6" fill="#ececec"/>
<line x1="1060.4" y1="825.8" x2="1066.6" y2="817.2" stroke="#b8b8c0" stroke-width="0.8"/>
<rect x="1210.0" y="815.2" width="9.4" height="12.6" fill="#ececec"/>
<line x1="1212.0" y1="825.8" x2="1217.4" y2="817.2" stroke="#b8b8c0" stroke-width="0.8"/>
<line x1="1182.4" y1="492.0" x2="1182.4" y2="564.4" stroke="#dcdde3" stroke-width="1.3" stroke-dasharray="7 5"/>
<line x1="1202.4" y1="492.0" x2="1202.4" y2="564.4" stroke="#dcdde3" stroke-width="1.3" stroke-dasharray="7 5"/>
<line x1="1182.4" y1="683.7" x2="1182.4" y2="756.4" stroke="#dcdde3" stroke-width="1.3" stroke-dasharray="7 5"/>
<line x1="1202.4" y1="683.7" x2="1202.4" y2="756.4" stroke="#dcdde3" stroke-width="1.3" stroke-dasharray="7 5"/>
<polyline points="1222.6,564.4 1176.0,564.4 1176.0,590.0 1174.9,590.0 1174.9,657.7 1176.0,657.7 1176.0,683.7 1222.6,683.7" fill="none" stroke="#dcdde3" stroke-width="1.2"/>
<polyline points="1222.6,571.0 1182.4,571.0 1182.4,590.0" fill="none" stroke="#dcdde3" stroke-width="1.2"/>
<polyline points="1182.4,657.7 1182.4,677.2 1222.6,677.2" fill="none" stroke="#dcdde3" stroke-width="1.2"/>
<line x1="1174.9" y1="590.0" x2="1182.4" y2="590.0" stroke="#dcdde3" stroke-width="1.1"/>
<line x1="1174.9" y1="657.7" x2="1182.4" y2="657.7" stroke="#dcdde3" stroke-width="1.1"/>
<line x1="1175.0" y1="624.0" x2="1182.4" y2="624.0" stroke="#dcdde3" stroke-width="1.1"/>
<rect x="1176.0" y="756.4" width="46.6" height="6.6" fill="none" stroke="#dcdde3" stroke-width="1.2"/>
<rect x="1222.6" y="492.0" width="7.1" height="362.0" fill="url(#hatch)"/>
<line x1="1222.6" y1="492.0" x2="1222.6" y2="854.0" stroke="#dcdde3" stroke-width="1.2"/>
<line x1="1229.7" y1="492.0" x2="1229.7" y2="854.0" stroke="#dcdde3" stroke-width="1.2"/>
<line x1="1222.6" y1="854.0" x2="1222.6" y2="899.4" stroke="#dcdde3" stroke-width="1.3" stroke-dasharray="7 5"/>
<line x1="1229.7" y1="854.0" x2="1229.7" y2="899.4" stroke="#dcdde3" stroke-width="1.3" stroke-dasharray="7 5"/>
<rect x="1222.6" y="912.5" width="7.1" height="140.5" fill="url(#hatch)"/>
<line x1="1222.6" y1="912.5" x2="1222.6" y2="1053.0" stroke="#dcdde3" stroke-width="1.2"/>
<line x1="1229.7" y1="912.5" x2="1229.7" y2="1053.0" stroke="#dcdde3" stroke-width="1.2"/>
<rect x="1222.6" y="1100.8" width="7.1" height="46.4" fill="url(#hatch)"/>
<line x1="1222.6" y1="1100.8" x2="1222.6" y2="1147.2" stroke="#dcdde3" stroke-width="1.2"/>
<line x1="1229.7" y1="1100.8" x2="1229.7" y2="1147.2" stroke="#dcdde3" stroke-width="1.2"/>
<rect x="1222.6" y="829.0" width="7.1" height="7.0" fill="#e8e8e8"/>
<rect x="1209.0" y="602.8" width="10.3" height="12.6" fill="#ececec"/>
<line x1="1211.0" y1="613.4" x2="1217.3" y2="604.8" stroke="#b8b8c0" stroke-width="0.8"/>
<rect x="1210.0" y="651.0" width="11.0" height="12.0" fill="#ececec"/>
<line x1="1212.0" y1="661.0" x2="1219.0" y2="653.0" stroke="#b8b8c0" stroke-width="0.8"/>
<rect x="1222.6" y="603.0" width="7.4" height="11.0" fill="#e8e8e8"/>
<rect x="1222.6" y="651.0" width="7.4" height="11.0" fill="#e8e8e8"/>
<polygon points="1295.3,517.7 1427.2,517.7 1467.8,557.9 1467.8,761.8 1427.2,802.0 1295.3,802.0 1255.1,761.8 1255.1,557.9" fill="none" stroke="#dcdde3" stroke-width="1.3" stroke-dasharray="9 6"/>
<line x1="1229.7" y1="605.6" x2="1493.3" y2="605.6" stroke="#dcdde3" stroke-width="1.3"/>
<line x1="1229.7" y1="612.8" x2="1493.3" y2="612.8" stroke="#dcdde3" stroke-width="1.3"/>
<line x1="1229.7" y1="609.2" x2="1493.3" y2="609.2" stroke="#dcdde3" stroke-width="1.6" stroke-dasharray="14 5 4 5"/>
<rect x="1313.7" y="588.9" width="99.2" height="14.5" fill="#efefef"/>
<text x="1315.7" y="600.4" font-size="10.875" fill="#d9d9dc" font-family="Liberation Sans" font-weight="normal" text-anchor="start" textLength="95.2" lengthAdjust="spacing">(2) 1.75x9.25 LVL</text>
<line x1="1316.7" y1="601.4" x2="1409.9" y2="590.9" stroke="#cdcdd0" stroke-width="0.8"/>
<rect x="1488.0" y="605.6" width="12.0" height="7.2" fill="#e8e8e8"/>
<rect x="1504.0" y="601.3" width="10.8" height="12.3" fill="#ececec"/>
<line x1="1506.0" y1="611.6" x2="1512.8" y2="603.3" stroke="#b8b8c0" stroke-width="0.8"/>
<text x="1234.5" y="630.0" font-size="11.6" fill="#e4e4ea" font-family="Liberation Sans" font-weight="normal" text-anchor="start" textLength="83.5" lengthAdjust="spacing">(WALL ABOVE)</text>
<text x="1345.0" y="683.7" font-size="11.6" fill="#e4e4ea" font-family="Liberation Sans" font-weight="normal" text-anchor="start" textLength="45.7" lengthAdjust="spacing">2x10 CJ</text>
<line x1="1245.0" y1="686.5" x2="1481.9" y2="686.5" stroke="#dcdde3" stroke-width="1.3"/>
<polygon points="1481.9,686.5 1474.9,688.3 1474.9,684.7" fill="#dcdde3" stroke="#dcdde3" stroke-width="0.8"/>
<polygon points="1245.0,686.5 1252.0,684.7 1252.0,688.3" fill="#dcdde3" stroke="#dcdde3" stroke-width="0.8"/>
<text x="1339.7" y="697.8" font-size="11.6" fill="#e4e4ea" font-family="Liberation Sans" font-weight="normal" text-anchor="start" textLength="55.8" lengthAdjust="spacingAndGlyphs">@ 16" O.C.</text>
<text x="1314.8" y="713.0" font-size="11.6" fill="#e4e4ea" font-family="Liberation Sans" font-weight="normal" text-anchor="start" textLength="105.9" lengthAdjust="spacing">(BOX DOWN TRAY)</text>
<rect x="1336.5" y="777.7" width="15.5" height="8.6" fill="#ececec"/>
<line x1="1338.5" y1="784.3" x2="1350.0" y2="779.7" stroke="#b8b8c0" stroke-width="0.8"/>
<line x1="1229.7" y1="790.0" x2="1493.3" y2="790.0" stroke="#dcdde3" stroke-width="1.3"/>
<line x1="1229.7" y1="796.0" x2="1493.3" y2="796.0" stroke="#dcdde3" stroke-width="1.3"/>
<line x1="1229.7" y1="793.0" x2="1493.3" y2="793.0" stroke="#dcdde3" stroke-width="1.6" stroke-dasharray="14 5 4 5"/>
<path d="M 635 836.3 L 732.8 836.3 L 732.8 876.9 L 635 876.9" fill="none" stroke="#c22c38" stroke-width="1.4" stroke-dasharray="6 3"/>
<line x1="676.4" y1="836.3" x2="676.4" y2="876.9" stroke="#c22c38" stroke-width="1.4" stroke-dasharray="6 3"/>
<rect x="635.0" y="856.3" width="41.4" height="20.6" fill="none" stroke="#dcdde3" stroke-width="1.3" stroke-dasharray="6 3"/>
<polyline points="739.3,835.6 739.3,883.4 634.0,883.4" fill="none" stroke="#dcdde3" stroke-width="1.2"/>
<polyline points="745.8,835.6 745.8,835.6" fill="none" stroke="#dcdde3" stroke-width="1.2"/>
<path d="M 745.8 835.6 Q 745 858 758.8 867.1" fill="none" stroke="#dcdde3" stroke-width="1.1"/>
<polyline points="758.8,867.1 791.4,834.5 794.0,837.0 761.5,869.5" fill="none" stroke="#dcdde3" stroke-width="1.2"/>
<rect x="792.5" y="829.8" width="19.5" height="5.8" fill="url(#hatch)"/>
<line x1="792.5" y1="829.8" x2="812.0" y2="829.8" stroke="#dcdde3" stroke-width="1.2"/>
<line x1="792.5" y1="835.6" x2="812.0" y2="835.6" stroke="#dcdde3" stroke-width="1.2"/>
<rect x="864.6" y="829.3" width="201.8" height="5.8" fill="url(#hatch)"/>
<line x1="864.6" y1="829.3" x2="1066.4" y2="829.3" stroke="#dcdde3" stroke-width="1.2"/>
<line x1="864.6" y1="835.1" x2="1066.4" y2="835.1" stroke="#dcdde3" stroke-width="1.2"/>
<line x1="812.5" y1="829.3" x2="864.6" y2="829.3" stroke="#c22c38" stroke-width="1.6" stroke-dasharray="7 3"/>
<line x1="812.5" y1="835.1" x2="864.6" y2="835.1" stroke="#c22c38" stroke-width="1.6" stroke-dasharray="7 3"/>
<rect x="798.4" y="835.1" width="7.2" height="312.1" fill="url(#hatch)"/>
<line x1="798.4" y1="835.1" x2="798.4" y2="1147.2" stroke="#dcdde3" stroke-width="1.2"/>
<line x1="805.6" y1="835.1" x2="805.6" y2="1147.2" stroke="#dcdde3" stroke-width="1.2"/>
<line x1="653.6" y1="883.4" x2="653.6" y2="941.0" stroke="#dcdde3" stroke-width="1.3" stroke-dasharray="7 5"/>
<line x1="673.1" y1="883.4" x2="673.1" y2="941.0" stroke="#dcdde3" stroke-width="1.2"/>
<line x1="679.6" y1="883.4" x2="679.6" y2="941.0" stroke="#dcdde3" stroke-width="1.2"/>
<polyline points="799.0,921.4 699.2,921.4 699.2,884.5" fill="none" stroke="#dcdde3" stroke-width="1.3" stroke-dasharray="7 5"/>
<text x="708.9" y="900.0" font-size="11.6" fill="#e4e4ea" font-family="Liberation Sans" font-weight="normal" text-anchor="start" textLength="46.1" lengthAdjust="spacing">2x10 CJ</text>
<line x1="640.6" y1="903.6" x2="796.8" y2="903.6" stroke="#dcdde3" stroke-width="1.3"/>
<polygon points="796.8,903.6 789.8,905.4 789.8,901.8" fill="#dcdde3" stroke="#dcdde3" stroke-width="0.8"/>
<polygon points="640.6,903.6 647.6,901.8 647.6,905.4" fill="#dcdde3" stroke="#dcdde3" stroke-width="0.8"/>
<text x="704.6" y="914.4" font-size="11.6" fill="#e4e4ea" font-family="Liberation Sans" font-weight="normal" text-anchor="start" textLength="55.3" lengthAdjust="spacingAndGlyphs">@ 16" O.C.</text>
<rect x="708.9" y="925.7" width="9.8" height="12.6" fill="#ececec"/>
<line x1="710.9" y1="936.3" x2="716.7" y2="927.7" stroke="#b8b8c0" stroke-width="0.8"/>
<rect x="708.9" y="941.0" width="9.8" height="7.0" fill="#e8e8e8"/>
<rect x="731.7" y="811.8" width="9.8" height="12.3" fill="#ececec"/>
<line x1="733.7" y1="822.1" x2="739.5" y2="813.8" stroke="#b8b8c0" stroke-width="0.8"/>
<rect x="732.6" y="828.6" width="7.4" height="7.2" fill="#e8e8e8"/>
<line x1="882.0" y1="835.1" x2="882.0" y2="900.9" stroke="#dcdde3" stroke-width="1.2"/>
<line x1="897.4" y1="835.1" x2="897.4" y2="900.9" stroke="#dcdde3" stroke-width="1.2"/>
<line x1="912.8" y1="835.1" x2="912.8" y2="900.9" stroke="#dcdde3" stroke-width="1.2"/>
<line x1="928.2" y1="835.1" x2="928.2" y2="900.9" stroke="#dcdde3" stroke-width="1.2"/>
<line x1="943.5" y1="835.1" x2="943.5" y2="900.9" stroke="#dcdde3" stroke-width="1.2"/>
<line x1="958.9" y1="835.1" x2="958.9" y2="900.9" stroke="#dcdde3" stroke-width="1.2"/>
<line x1="974.3" y1="835.1" x2="974.3" y2="900.9" stroke="#dcdde3" stroke-width="1.2"/>
<line x1="989.7" y1="835.1" x2="989.7" y2="900.9" stroke="#dcdde3" stroke-width="1.2"/>
<line x1="1005.1" y1="835.1" x2="1005.1" y2="900.9" stroke="#dcdde3" stroke-width="1.2"/>
<line x1="1020.5" y1="835.1" x2="1020.5" y2="900.9" stroke="#dcdde3" stroke-width="1.2"/>
<line x1="1035.9" y1="835.1" x2="1035.9" y2="900.9" stroke="#dcdde3" stroke-width="1.2"/>
<line x1="1051.3" y1="835.1" x2="1051.3" y2="900.9" stroke="#dcdde3" stroke-width="1.2"/>
<line x1="1066.7" y1="835.1" x2="1066.7" y2="900.9" stroke="#dcdde3" stroke-width="1.2"/>
<line x1="1082.0" y1="835.1" x2="1082.0" y2="900.9" stroke="#dcdde3" stroke-width="1.2"/>
<line x1="1097.4" y1="835.1" x2="1097.4" y2="900.9" stroke="#dcdde3" stroke-width="1.2"/>
<line x1="1112.8" y1="835.1" x2="1112.8" y2="900.9" stroke="#dcdde3" stroke-width="1.2"/>
<line x1="1128.2" y1="835.1" x2="1128.2" y2="900.9" stroke="#dcdde3" stroke-width="1.2"/>
<line x1="878.7" y1="835.1" x2="878.7" y2="900.9" stroke="#c22c38" stroke-width="1.6"/>
<line x1="880.0" y1="857.0" x2="920.0" y2="857.0" stroke="#c22c38" stroke-width="1.5" stroke-dasharray="8 4"/>
<line x1="880.0" y1="880.3" x2="920.0" y2="880.3" stroke="#c22c38" stroke-width="1.5" stroke-dasharray="8 4"/>
<rect x="866.4" y="862.5" width="8.6" height="12.4" fill="#ececec"/>
<line x1="868.4" y1="872.9" x2="873.0" y2="864.5" stroke="#b8b8c0" stroke-width="0.8"/>
<text x="882.0" y="872.0" font-size="8.2" fill="#e4e4ea" font-family="Liberation Sans" font-weight="bold" text-anchor="start" textLength="39.0" lengthAdjust="spacingAndGlyphs">STAIR RAKE</text>
<line x1="805.6" y1="900.9" x2="1128.2" y2="900.9" stroke="#dcdde3" stroke-width="1.3"/>
<line x1="805.6" y1="903.4" x2="1493.3" y2="903.4" stroke="#dcdde3" stroke-width="1.3"/>
<line x1="805.6" y1="908.6" x2="1493.3" y2="908.6" stroke="#dcdde3" stroke-width="1.3"/>
<line x1="805.6" y1="906.0" x2="1493.3" y2="906.0" stroke="#dcdde3" stroke-width="1.6" stroke-dasharray="14 5 4 5"/>
<line x1="1128.2" y1="835.1" x2="1128.2" y2="908.0" stroke="#dcdde3" stroke-width="1.3"/>
<line x1="1066.4" y1="829.4" x2="1222.6" y2="829.4" stroke="#dcdde3" stroke-width="1.3"/>
<line x1="1066.4" y1="835.2" x2="1222.6" y2="835.2" stroke="#dcdde3" stroke-width="1.3"/>
<line x1="1066.4" y1="832.3" x2="1222.6" y2="832.3" stroke="#dcdde3" stroke-width="1.6" stroke-dasharray="14 5 4 5"/>
<g transform="translate(1167.7 870.5) rotate(-90)"><text x="-22.8" y="0" font-size="11.6" fill="#e4e4ea" font-family="Liberation Sans" textLength="45.6" lengthAdjust="spacing">2x10 CJ</text></g>
<g transform="translate(1182.4 870.5) rotate(-90)"><text x="-28.2" y="0" font-size="11.6" fill="#e4e4ea" font-family="Liberation Sans" textLength="56.4" lengthAdjust="spacingAndGlyphs">@ 16" O.C.</text></g>
<line x1="1170.5" y1="839.0" x2="1170.5" y2="898.7" stroke="#dcdde3" stroke-width="1.2"/>
<polygon points="1170.5,839.0 1172.3,846.0 1168.7,846.0" fill="#dcdde3" stroke="#dcdde3" stroke-width="0.8"/>
<polygon points="1170.5,898.7 1168.7,891.7 1172.3,891.7" fill="#dcdde3" stroke="#dcdde3" stroke-width="0.8"/>
<rect x="818.6" y="921.5" width="71.0" height="64.0" fill="none" stroke="#dcdde3" stroke-width="1.3" stroke-dasharray="7 5"/>
<rect x="818.6" y="998.5" width="71.0" height="57.5" fill="none" stroke="#dcdde3" stroke-width="1.3" stroke-dasharray="7 5"/>
<rect x="818.6" y="1069.5" width="71.0" height="63.5" fill="none" stroke="#dcdde3" stroke-width="1.3" stroke-dasharray="7 5"/>
<rect x="902.6" y="921.5" width="64.0" height="64.0" fill="none" stroke="#dcdde3" stroke-width="1.3" stroke-dasharray="7 5"/>
<rect x="902.6" y="998.5" width="64.0" height="57.5" fill="none" stroke="#dcdde3" stroke-width="1.3" stroke-dasharray="7 5"/>
<rect x="902.6" y="1069.5" width="64.0" height="63.5" fill="none" stroke="#dcdde3" stroke-width="1.3" stroke-dasharray="7 5"/>
<rect x="979.6" y="921.5" width="71.2" height="64.0" fill="none" stroke="#dcdde3" stroke-width="1.3" stroke-dasharray="7 5"/>
<rect x="979.6" y="998.5" width="71.2" height="57.5" fill="none" stroke="#dcdde3" stroke-width="1.3" stroke-dasharray="7 5"/>
<rect x="979.6" y="1069.5" width="71.2" height="63.5" fill="none" stroke="#dcdde3" stroke-width="1.3" stroke-dasharray="7 5"/>
<text x="905.4" y="937.0" font-size="11.4" fill="#e4e4ea" font-family="Liberation Sans" font-weight="normal" text-anchor="start" textLength="69.4" lengthAdjust="spacing">DJ ON WALL</text>
<polyline points="902.7,932.0 881.9,932.0 840.3,909.2" fill="none" stroke="#dcdde3" stroke-width="1.1"/>
<polygon points="840.3,909.2 847.3,911.0 845.6,914.1" fill="#dcdde3" stroke="#dcdde3" stroke-width="0.8"/>
<polyline points="982.8,932.0 1000.5,932.0 1055.6,909.2" fill="none" stroke="#dcdde3" stroke-width="1.1"/>
<polygon points="1055.6,909.2 1049.8,913.5 1048.4,910.2" fill="#dcdde3" stroke="#dcdde3" stroke-width="0.8"/>
<text x="912.8" y="1025.6" font-size="11.6" fill="#e4e4ea" font-family="Liberation Sans" font-weight="normal" text-anchor="start" textLength="46.8" lengthAdjust="spacing">2x10 CJ</text>
<line x1="816.5" y1="1029.0" x2="1052.3" y2="1029.0" stroke="#dcdde3" stroke-width="1.3"/>
<polygon points="1052.3,1029.0 1045.3,1030.8 1045.3,1027.2" fill="#dcdde3" stroke="#dcdde3" stroke-width="0.8"/>
<polygon points="816.5,1029.0 823.5,1027.2 823.5,1030.8" fill="#dcdde3" stroke="#dcdde3" stroke-width="0.8"/>
<text x="908.0" y="1040.4" font-size="11.6" fill="#e4e4ea" font-family="Liberation Sans" font-weight="normal" text-anchor="start" textLength="56.4" lengthAdjust="spacingAndGlyphs">@ 16" O.C.</text>
<rect x="1063.8" y="908.5" width="6.9" height="29.3" fill="url(#hatch)"/>
<line x1="1063.8" y1="908.5" x2="1063.8" y2="937.8" stroke="#dcdde3" stroke-width="1.2"/>
<line x1="1070.7" y1="908.5" x2="1070.7" y2="937.8" stroke="#dcdde3" stroke-width="1.2"/>
<line x1="1063.8" y1="945.0" x2="1063.8" y2="1102.7" stroke="#c22c38" stroke-width="1.5" stroke-dasharray="6 4"/>
<line x1="1070.7" y1="945.0" x2="1070.7" y2="1102.7" stroke="#c22c38" stroke-width="1.5" stroke-dasharray="6 4"/>
<rect x="1063.8" y="1112.0" width="6.9" height="35.2" fill="url(#hatch)"/>
<line x1="1063.8" y1="1112.0" x2="1063.8" y2="1147.2" stroke="#dcdde3" stroke-width="1.2"/>
<line x1="1070.7" y1="1112.0" x2="1070.7" y2="1147.2" stroke="#dcdde3" stroke-width="1.2"/>
<rect x="1063.8" y="937.8" width="7.2" height="7.2" fill="#e8e8e8"/>
<rect x="1063.8" y="1102.7" width="7.2" height="9.3" fill="#e8e8e8"/>
<rect x="1073.3" y="935.0" width="10.0" height="12.5" fill="#ececec"/>
<line x1="1075.3" y1="945.5" x2="1081.3" y2="937.0" stroke="#b8b8c0" stroke-width="0.8"/>
<rect x="1073.3" y="1100.0" width="10.0" height="12.4" fill="#ececec"/>
<line x1="1075.3" y1="1110.4" x2="1081.3" y2="1102.0" stroke="#b8b8c0" stroke-width="0.8"/>
<g transform="translate(1078.3 1030.6) rotate(90)">
<rect x="-49.4" y="-7.6" width="98.8" height="15.2" fill="#efefef"/>
<text x="-47.4" y="4.6" font-size="11.399999999999999" fill="#d9d9dc" font-family="Liberation Sans" font-weight="normal" text-anchor="start" textLength="94.8" lengthAdjust="spacing">(2) 1.75x9.25 LVL</text>
<line x1="-46.4" y1="5.6" x2="46.4" y2="-5.6" stroke="#cdcdd0" stroke-width="0.8"/>
</g>
<text x="1120.2" y="963.8" font-size="11.6" fill="#e4e4ea" font-family="Liberation Sans" font-weight="normal" text-anchor="start" textLength="46.0" lengthAdjust="spacing">2x10 CJ</text>
<line x1="1078.3" y1="967.0" x2="1217.2" y2="967.0" stroke="#dcdde3" stroke-width="1.3"/>
<polygon points="1217.2,967.0 1210.2,968.8 1210.2,965.2" fill="#dcdde3" stroke="#dcdde3" stroke-width="0.8"/>
<polygon points="1078.3,967.0 1085.3,965.2 1085.3,968.8" fill="#dcdde3" stroke="#dcdde3" stroke-width="0.8"/>
<text x="1115.2" y="978.3" font-size="11.6" fill="#e4e4ea" font-family="Liberation Sans" font-weight="normal" text-anchor="start" textLength="55.3" lengthAdjust="spacingAndGlyphs">@ 16" O.C.</text>
<polyline points="1093.2,1147.4 1131.1,1109.4 1134.0,1112.0 1096.5,1149.0" fill="none" stroke="#dcdde3" stroke-width="1.2"/>
<path d="M 1131.1 1109.4 Q 1146 1125 1146.3 1147.4" fill="none" stroke="#dcdde3" stroke-width="1.1"/>
<polyline points="1199.5,1147.4 1161.5,1109.4 1158.5,1112.0 1196.0,1149.0" fill="none" stroke="#dcdde3" stroke-width="1.2"/>
<path d="M 1161.5 1109.4 Q 1146.5 1125 1146.3 1147.4" fill="none" stroke="#dcdde3" stroke-width="1.1"/>
<rect x="1146.5" y="913.0" width="11.5" height="8.0" fill="#ececec"/>
<line x1="1148.5" y1="919.0" x2="1156.0" y2="915.0" stroke="#b8b8c0" stroke-width="0.8"/>
<polyline points="1229.7,830.3 1239.6,830.3" fill="none" stroke="#dcdde3" stroke-width="1.2"/>
<polyline points="1229.7,835.6 1242.0,835.6" fill="none" stroke="#dcdde3" stroke-width="1.2"/>
<polyline points="1239.6,830.3 1276.3,792.7 1279.5,796.0 1243.0,833.5" fill="none" stroke="#dcdde3" stroke-width="1.2"/>
<path d="M 1276.3 792.7 Q 1292 810 1292.9 830.3" fill="none" stroke="#dcdde3" stroke-width="1.1"/>
<line x1="1292.9" y1="830.3" x2="1363.7" y2="830.3" stroke="#dcdde3" stroke-width="1.2"/>
<line x1="1301.6" y1="835.6" x2="1363.7" y2="835.6" stroke="#dcdde3" stroke-width="1.2"/>
<line x1="1363.7" y1="830.3" x2="1363.7" y2="835.6" stroke="#dcdde3" stroke-width="1.2"/>
<line x1="1411.8" y1="830.3" x2="1493.3" y2="830.3" stroke="#dcdde3" stroke-width="1.2"/>
<line x1="1411.8" y1="835.6" x2="1493.3" y2="835.6" stroke="#dcdde3" stroke-width="1.2"/>
<line x1="1411.8" y1="830.3" x2="1411.8" y2="835.6" stroke="#dcdde3" stroke-width="1.2"/>
<path d="M 1363.7 835.6 Q 1366 858 1377.7 868.8" fill="none" stroke="#dcdde3" stroke-width="1.1"/>
<polyline points="1377.7,868.8 1410.0,833.8 1412.0,836.5 1380.0,871.0" fill="none" stroke="#dcdde3" stroke-width="1.2"/>
<line x1="1301.6" y1="835.6" x2="1301.6" y2="978.0" stroke="#dcdde3" stroke-width="1.2"/>
<line x1="1308.3" y1="835.6" x2="1308.3" y2="978.0" stroke="#dcdde3" stroke-width="1.2"/>
<line x1="1344.5" y1="835.6" x2="1344.5" y2="978.0" stroke="#dcdde3" stroke-width="1.3" stroke-dasharray="5 3"/>
<ellipse cx="1327.0" cy="870.0" rx="10.5" ry="15.0" fill="none" stroke="#dcdde3" stroke-width="1.2"/>
<ellipse cx="1327.0" cy="942.3" rx="10.5" ry="15.0" fill="none" stroke="#dcdde3" stroke-width="1.2"/>
<line x1="1313.0" y1="870.0" x2="1320.0" y2="870.0" stroke="#dcdde3" stroke-width="1.2"/>
<circle cx="1315.0" cy="864.0" r="1.6" fill="none" stroke="#dcdde3" stroke-width="1"/>
<circle cx="1315.0" cy="876.0" r="1.6" fill="none" stroke="#dcdde3" stroke-width="1"/>
<line x1="1313.0" y1="942.3" x2="1320.0" y2="942.3" stroke="#dcdde3" stroke-width="1.2"/>
<circle cx="1315.0" cy="936.3" r="1.6" fill="none" stroke="#dcdde3" stroke-width="1"/>
<circle cx="1315.0" cy="948.3" r="1.6" fill="none" stroke="#dcdde3" stroke-width="1"/>
<rect x="1368.0" y="890.3" width="15.8" height="8.7" fill="#ececec"/>
<line x1="1370.0" y1="897.0" x2="1381.8" y2="892.3" stroke="#b8b8c0" stroke-width="0.8"/>
<rect x="1424.4" y="835.6" width="68.9" height="79.5" fill="none" stroke="#dcdde3" stroke-width="1.2"/>
<rect x="1430.5" y="840.8" width="57.4" height="68.2" fill="none" stroke="#dcdde3" stroke-width="1.2"/>
<line x1="1435.0" y1="846.0" x2="1446.0" y2="857.0" stroke="#dcdde3" stroke-width="1.1"/>
<line x1="1483.0" y1="846.0" x2="1472.0" y2="857.0" stroke="#dcdde3" stroke-width="1.1"/>
<line x1="1435.0" y1="903.0" x2="1446.0" y2="892.0" stroke="#dcdde3" stroke-width="1.1"/>
<line x1="1483.0" y1="903.0" x2="1472.0" y2="892.0" stroke="#dcdde3" stroke-width="1.1"/>
<line x1="1419.7" y1="921.3" x2="1493.3" y2="921.3" stroke="#dcdde3" stroke-width="1.3" stroke-dasharray="6 4"/>
<line x1="1419.7" y1="915.1" x2="1419.7" y2="921.3" stroke="#dcdde3" stroke-width="1.1"/>
<polyline points="1229.7,931.7 1242.2,931.7 1242.2,937.9 1229.7,937.9" fill="none" stroke="#dcdde3" stroke-width="1.2"/>
<polyline points="1301.6,931.7 1288.5,931.7 1288.5,937.9 1301.6,937.9" fill="none" stroke="#dcdde3" stroke-width="1.2"/>
<path d="M 1242.2 937.9 Q 1240 912 1255.3 899.4" fill="none" stroke="#dcdde3" stroke-width="1.1"/>
<polyline points="1255.3,899.4 1288.5,933.5 1285.5,936.0 1252.5,902.0" fill="none" stroke="#dcdde3" stroke-width="1.2"/>
<polyline points="1229.7,978.0 1348.8,978.0 1348.8,992.0" fill="none" stroke="#dcdde3" stroke-width="1.2"/>
<polyline points="1229.7,984.2 1341.9,984.2 1341.9,992.0" fill="none" stroke="#dcdde3" stroke-width="1.2"/>
<rect x="1232.6" y="997.3" width="13.1" height="30.6" fill="none" stroke="#dcdde3" stroke-width="1.2"/>
<ellipse cx="1262.0" cy="1012.0" rx="16.5" ry="13.0" fill="none" stroke="#dcdde3" stroke-width="1.2"/>
<path d="M 1341.9 992 Q 1322 994 1312 1005.2" fill="none" stroke="#dcdde3" stroke-width="1.1"/>
<polyline points="1312.0,1005.2 1340.0,1033.0 1343.0,1030.0 1315.0,1002.5" fill="none" stroke="#dcdde3" stroke-width="1.2"/>
<text x="1368.0" y="958.3" font-size="11.6" fill="#e4e4ea" font-family="Liberation Sans" font-weight="normal" text-anchor="start" textLength="45.6" lengthAdjust="spacing">2x10 CJ</text>
<line x1="1244.6" y1="962.0" x2="1482.8" y2="962.0" stroke="#dcdde3" stroke-width="1.3"/>
<polygon points="1482.8,962.0 1475.8,963.8 1475.8,960.2" fill="#dcdde3" stroke="#dcdde3" stroke-width="0.8"/>
<polygon points="1244.6,962.0 1251.6,960.2 1251.6,963.8" fill="#dcdde3" stroke="#dcdde3" stroke-width="0.8"/>
<text x="1363.0" y="972.0" font-size="11.6" fill="#e4e4ea" font-family="Liberation Sans" font-weight="normal" text-anchor="start" textLength="55.2" lengthAdjust="spacingAndGlyphs">@ 16" O.C.</text>
<ellipse cx="1459.1" cy="981.4" rx="27.7" ry="53.8" fill="none" stroke="#dcdde3" stroke-width="1.3"/>
<ellipse cx="1459.1" cy="981.4" rx="23.5" ry="49.5" fill="none" stroke="#dcdde3" stroke-width="1.2"/>
<rect x="1494.5" y="941.4" width="5.2" height="78.4" fill="none" stroke="#dcdde3" stroke-width="1.1"/>
<line x1="1229.7" y1="1033.6" x2="1493.3" y2="1033.6" stroke="#dcdde3" stroke-width="1.3"/>
<line x1="1229.7" y1="1039.8" x2="1493.3" y2="1039.8" stroke="#dcdde3" stroke-width="1.3"/>
<line x1="1229.7" y1="1036.7" x2="1493.3" y2="1036.7" stroke="#dcdde3" stroke-width="1.6" stroke-dasharray="14 5 4 5"/>
<rect x="1263.6" y="1015.2" width="202.9" height="13.8" fill="#efefef"/>
<text x="1265.6" y="1026.0" font-size="10.349999999999966" fill="#d9d9dc" font-family="Liberation Sans" font-weight="normal" text-anchor="start" textLength="198.9" lengthAdjust="spacing">(2) 1.75x11.875 LVL (BOTTOM FLUSH)</text>
<line x1="1266.6" y1="1027.0" x2="1463.5" y2="1017.2" stroke="#cdcdd0" stroke-width="0.8"/>
<rect x="1208.3" y="1029.6" width="10.1" height="11.7" fill="#ececec"/>
<line x1="1210.3" y1="1039.3" x2="1216.4" y2="1031.6" stroke="#b8b8c0" stroke-width="0.8"/>
<rect x="1504.3" y="1029.6" width="10.7" height="11.7" fill="#ececec"/>
<line x1="1506.3" y1="1039.3" x2="1513.0" y2="1031.6" stroke="#b8b8c0" stroke-width="0.8"/>
<rect x="1222.6" y="1031.0" width="7.4" height="9.0" fill="#e8e8e8"/>
<rect x="1488.0" y="1031.0" width="12.0" height="9.0" fill="#e8e8e8"/>
<text x="1347.5" y="1060.4" font-size="11.6" fill="#e4e4ea" font-family="Liberation Sans" font-weight="normal" text-anchor="start" textLength="84.0" lengthAdjust="spacing">(WALL ABOVE)</text>
<line x1="1229.7" y1="1047.4" x2="1493.3" y2="1047.4" stroke="#dcdde3" stroke-width="1.2"/>
<line x1="1320.8" y1="1047.4" x2="1320.8" y2="1147.4" stroke="#dcdde3" stroke-width="1.2"/>
<line x1="1327.6" y1="1047.4" x2="1327.6" y2="1147.4" stroke="#dcdde3" stroke-width="1.2"/>
<line x1="1229.7" y1="1147.4" x2="1320.8" y2="1147.4" stroke="#dcdde3" stroke-width="1.2"/>
<polyline points="1327.6,1147.4 1361.4,1147.4 1361.4,1153.5 1229.7,1153.5" fill="none" stroke="#dcdde3" stroke-width="1.2"/>
<polyline points="1362.0,1047.4 1395.0,1081.0 1407.0,1047.4" fill="none" stroke="#dcdde3" stroke-width="1.2"/>
<path d="M 1395 1081 Q 1410 1065 1407 1047.4" fill="none" stroke="#dcdde3" stroke-width="1.0"/>
<line x1="1224.5" y1="1048.7" x2="1237.5" y2="1061.7" stroke="#dcdde3" stroke-width="1.1"/>
<polyline points="1244.0,1074.7 1261.4,1086.7" fill="none" stroke="#dcdde3" stroke-width="1.1"/>
<line x1="1242.0" y1="1077.0" x2="1259.0" y2="1089.5" stroke="#dcdde3" stroke-width="1.1"/>
<path d="M 1228.8 1100.8 Q 1250 1098 1261.4 1086.7" fill="none" stroke="#dcdde3" stroke-width="1.1"/>
<rect x="1222.6" y="1147.2" width="6.6" height="125.1" fill="url(#hatch)"/>
<line x1="1222.6" y1="1147.2" x2="1222.6" y2="1272.3" stroke="#dcdde3" stroke-width="1.2"/>
<line x1="1229.2" y1="1147.2" x2="1229.2" y2="1272.3" stroke="#dcdde3" stroke-width="1.2"/>
<line x1="1222.6" y1="1147.2" x2="1229.2" y2="1147.2" stroke="#4fb356" stroke-width="1.6"/>
<line x1="1222.6" y1="1153.5" x2="1229.2" y2="1153.5" stroke="#4fb356" stroke-width="1.6"/>
<line x1="1222.4" y1="1147.2" x2="1222.4" y2="1272.3" stroke="#4fb356" stroke-width="1.8"/>
<line x1="1229.2" y1="1147.2" x2="1229.2" y2="1265.7" stroke="#4fb356" stroke-width="1.8"/>
<line x1="356.0" y1="948.0" x2="356.0" y2="1390.0" stroke="#dcdde3" stroke-width="1.3"/>
<line x1="362.4" y1="948.0" x2="362.4" y2="1168.0" stroke="#dcdde3" stroke-width="1.3"/>
<line x1="362.4" y1="1177.5" x2="362.4" y2="1294.0" stroke="#dcdde3" stroke-width="1.3"/>
<line x1="362.4" y1="1347.0" x2="362.4" y2="1382.0" stroke="#dcdde3" stroke-width="1.3"/>
<line x1="356.0" y1="1040.0" x2="362.4" y2="1040.0" stroke="#dcdde3" stroke-width="1.0"/>
<line x1="356.0" y1="1108.0" x2="362.4" y2="1108.0" stroke="#dcdde3" stroke-width="1.0"/>
<line x1="356.0" y1="1122.0" x2="362.4" y2="1122.0" stroke="#dcdde3" stroke-width="1.0"/>
<line x1="445.5" y1="948.0" x2="445.5" y2="1382.0" stroke="#dcdde3" stroke-width="1.3"/>
<line x1="451.3" y1="948.0" x2="451.3" y2="1382.0" stroke="#dcdde3" stroke-width="1.3"/>
<line x1="448.4" y1="948.0" x2="448.4" y2="1382.0" stroke="#dcdde3" stroke-width="1.6" stroke-dasharray="14 5 4 5"/>
<line x1="710.1" y1="948.0" x2="710.1" y2="1382.0" stroke="#dcdde3" stroke-width="1.3"/>
<line x1="716.3" y1="948.0" x2="716.3" y2="1382.0" stroke="#dcdde3" stroke-width="1.3"/>
<line x1="713.2" y1="948.0" x2="713.2" y2="1382.0" stroke="#dcdde3" stroke-width="1.6" stroke-dasharray="14 5 4 5"/>
<line x1="798.7" y1="1153.5" x2="798.7" y2="1390.0" stroke="#dcdde3" stroke-width="1.3"/>
<line x1="805.4" y1="1153.5" x2="805.4" y2="1168.0" stroke="#dcdde3" stroke-width="1.3"/>
<line x1="805.4" y1="1177.5" x2="805.4" y2="1382.0" stroke="#dcdde3" stroke-width="1.3"/>
<line x1="356.0" y1="1168.0" x2="805.4" y2="1168.0" stroke="#dcdde3" stroke-width="1.3"/>
<line x1="356.0" y1="1177.4" x2="805.4" y2="1177.4" stroke="#dcdde3" stroke-width="1.3"/>
<line x1="356.0" y1="1172.7" x2="805.4" y2="1172.7" stroke="#dcdde3" stroke-width="1.6" stroke-dasharray="14 5 4 5"/>
<line x1="356.0" y1="1170.0" x2="805.4" y2="1170.0" stroke="#dcdde3" stroke-width="1.1"/>
<line x1="356.0" y1="1175.4" x2="805.4" y2="1175.4" stroke="#dcdde3" stroke-width="1.1"/>
<line x1="356.0" y1="1382.0" x2="805.4" y2="1382.0" stroke="#dcdde3" stroke-width="1.3"/>
<line x1="356.0" y1="1391.4" x2="805.4" y2="1391.4" stroke="#dcdde3" stroke-width="1.3"/>
<line x1="356.0" y1="1386.7" x2="805.4" y2="1386.7" stroke="#dcdde3" stroke-width="1.6" stroke-dasharray="14 5 4 5"/>
<line x1="356.0" y1="1384.0" x2="805.4" y2="1384.0" stroke="#dcdde3" stroke-width="1.1"/>
<line x1="356.0" y1="1389.4" x2="805.4" y2="1389.4" stroke="#dcdde3" stroke-width="1.1"/>
<rect x="355.7" y="1168.0" width="7.3" height="9.5" fill="#e8e8e8"/>
<rect x="798.7" y="1168.0" width="7.3" height="9.5" fill="#e8e8e8"/>
<rect x="355.7" y="1382.0" width="7.3" height="9.5" fill="#e8e8e8"/>
<rect x="798.7" y="1382.0" width="7.3" height="9.5" fill="#e8e8e8"/>
<rect x="390.0" y="1382.0" width="7.0" height="9.5" fill="#e8e8e8"/>
<rect x="765.0" y="1382.0" width="7.0" height="9.5" fill="#e8e8e8"/>
<text x="495.3" y="1190.3" font-size="11.6" fill="#e4e4ea" font-family="Liberation Sans" font-weight="normal" text-anchor="start" textLength="156.5" lengthAdjust="spacingAndGlyphs">(3) 1.75x18 LVL (TOP FLUSH)</text>
<text x="521.5" y="1377.0" font-size="11.6" fill="#e4e4ea" font-family="Liberation Sans" font-weight="normal" text-anchor="start" textLength="102.2" lengthAdjust="spacingAndGlyphs">(3) 1.75x11.875 LVL</text>
<polyline points="385.7,1392.0 385.7,1404.3 775.4,1404.3 775.4,1392.0" fill="none" stroke="#dcdde3" stroke-width="1.2"/>
<line x1="390.0" y1="1391.5" x2="402.0" y2="1404.3" stroke="#dcdde3" stroke-width="1.1"/>
<line x1="770.0" y1="1391.5" x2="758.0" y2="1404.3" stroke="#dcdde3" stroke-width="1.1"/>
<polyline points="378.4,1356.4 378.4,1442.6 562.0,1442.6" fill="none" stroke="#dcdde3" stroke-width="1.2"/>
<polyline points="602.0,1442.6 784.0,1442.6 784.0,1356.4" fill="none" stroke="#dcdde3" stroke-width="1.2"/>
<circle cx="582.2" cy="1441.0" r="20.0" fill="none" stroke="#dcdde3" stroke-width="1.3"/>
<line x1="562.5" y1="1441.0" x2="602.0" y2="1441.0" stroke="#dcdde3" stroke-width="1.1"/>
<text x="567.0" y="1437.5" font-size="12" fill="#e4e4ea" font-family="Liberation Sans" font-weight="normal" text-anchor="start" textLength="30.5" lengthAdjust="spacing">905B</text>
<text x="574.0" y="1455.0" font-size="12.5" fill="#e4e4ea" font-family="Liberation Sans" font-weight="normal" text-anchor="start" textLength="16.5" lengthAdjust="spacingAndGlyphs">SD</text>
<text x="560.5" y="1477.0" font-size="11.6" fill="#e4e4ea" font-family="Liberation Sans" font-weight="normal" text-anchor="start" textLength="44.0" lengthAdjust="spacing">(CS-PF)</text>
<circle cx="409.7" cy="1126.4" r="20.0" fill="none" stroke="#dcdde3" stroke-width="1.3"/>
<line x1="390.0" y1="1126.4" x2="429.5" y2="1126.4" stroke="#dcdde3" stroke-width="1.1"/>
<text x="394.0" y="1122.5" font-size="12" fill="#e4e4ea" font-family="Liberation Sans" font-weight="normal" text-anchor="start" textLength="31.5" lengthAdjust="spacing">204B</text>
<text x="401.5" y="1140.0" font-size="12.5" fill="#e4e4ea" font-family="Liberation Sans" font-weight="normal" text-anchor="start" textLength="16.5" lengthAdjust="spacingAndGlyphs">SD</text>
<text x="392.0" y="1160.0" font-size="11.6" fill="#e4e4ea" font-family="Liberation Sans" font-weight="normal" text-anchor="start" textLength="36.0" lengthAdjust="spacing">(TYP.)</text>
<line x1="390.0" y1="1126.4" x2="380.0" y2="1126.4" stroke="#dcdde3" stroke-width="1.1"/>
<line x1="380.0" y1="1126.4" x2="363.4" y2="1164.7" stroke="#dcdde3" stroke-width="1.1"/>
<polygon points="363.4,1164.7 364.5,1157.6 367.8,1159.0" fill="#dcdde3" stroke="#dcdde3" stroke-width="0.8"/>
<line x1="306.0" y1="1172.7" x2="306.0" y2="1390.0" stroke="#dcdde3" stroke-width="1.2"/>
<line x1="275.5" y1="1172.7" x2="335.6" y2="1172.7" stroke="#dcdde3" stroke-width="1.2"/>
<line x1="275.5" y1="1390.0" x2="335.6" y2="1390.0" stroke="#dcdde3" stroke-width="1.2"/>
<line x1="300.0" y1="1166.0" x2="312.0" y2="1179.0" stroke="#dcdde3" stroke-width="1.6"/>
<line x1="300.0" y1="1383.0" x2="312.0" y2="1396.0" stroke="#dcdde3" stroke-width="1.6"/>
<g transform="translate(303.1 1281.3) rotate(-90)"><text x="-13.5" y="0" font-size="11.6" fill="#e4e4ea" font-family="Liberation Sans" textLength="27.0" lengthAdjust="spacingAndGlyphs">11'-0"</text></g>
<text x="261.0" y="1180.0" font-size="14" fill="#e4e4ea" font-family="Liberation Sans" font-weight="normal" text-anchor="start" textLength="16.0" lengthAdjust="spacing">℄</text>
<line x1="579.6" y1="965.0" x2="579.6" y2="1160.0" stroke="#dcdde3" stroke-width="1.2"/>
<polygon points="579.6,965.0 581.4,972.0 577.8,972.0" fill="#dcdde3" stroke="#dcdde3" stroke-width="0.8"/>
<polygon points="579.6,1160.0 577.8,1153.0 581.4,1153.0" fill="#dcdde3" stroke="#dcdde3" stroke-width="0.8"/>
<g transform="translate(575.9 1061.7) rotate(-90)"><text x="-23.1" y="0" font-size="11.6" fill="#e4e4ea" font-family="Liberation Sans" textLength="46.3" lengthAdjust="spacing">2x10 CJ</text></g>
<g transform="translate(591.9 1061.0) rotate(-90)"><text x="-28.8" y="0" font-size="11.6" fill="#e4e4ea" font-family="Liberation Sans" textLength="57.5" lengthAdjust="spacingAndGlyphs">@ 16" O.C.</text></g>
<line x1="579.6" y1="1203.0" x2="579.6" y2="1358.0" stroke="#dcdde3" stroke-width="1.2"/>
<polygon points="579.6,1203.0 581.4,1210.0 577.8,1210.0" fill="#dcdde3" stroke="#dcdde3" stroke-width="0.8"/>
<polygon points="579.6,1358.0 577.8,1351.0 581.4,1351.0" fill="#dcdde3" stroke="#dcdde3" stroke-width="0.8"/>
<g transform="translate(575.9 1282.0) rotate(-90)"><text x="-23.1" y="0" font-size="11.6" fill="#e4e4ea" font-family="Liberation Sans" textLength="46.3" lengthAdjust="spacing">2x10 CJ</text></g>
<g transform="translate(591.9 1281.3) rotate(-90)"><text x="-28.8" y="0" font-size="11.6" fill="#e4e4ea" font-family="Liberation Sans" textLength="57.5" lengthAdjust="spacingAndGlyphs">@ 16" O.C.</text></g>
<g transform="translate(701.2 1077.4) rotate(90)">
<rect x="-49.0" y="-7.2" width="98.0" height="14.4" fill="#efefef"/>
<text x="-47.0" y="4.2" font-size="10.8" fill="#d9d9dc" font-family="Liberation Sans" font-weight="normal" text-anchor="start" textLength="94.0" lengthAdjust="spacing">(2) 1.75x9.25 LVL</text>
<line x1="-46.0" y1="5.2" x2="46.0" y2="-5.2" stroke="#cdcdd0" stroke-width="0.8"/>
</g>
<rect x="622.0" y="1121.6" width="52.8" height="11.8" fill="#efefef"/>
<text x="624.0" y="1130.4" font-size="8.850000000000136" fill="#d9d9dc" font-family="Liberation Sans" font-weight="normal" text-anchor="start" textLength="48.8" lengthAdjust="spacing">SIMPSON</text>
<line x1="625.0" y1="1131.4" x2="671.8" y2="1123.6" stroke="#cdcdd0" stroke-width="0.8"/>
<rect x="611.0" y="1136.0" width="76.0" height="13.7" fill="#efefef"/>
<text x="613.0" y="1146.7" font-size="10.275000000000034" fill="#d9d9dc" font-family="Liberation Sans" font-weight="normal" text-anchor="start" textLength="72.0" lengthAdjust="spacingAndGlyphs">HUCQ410-SDS MAX</text>
<line x1="614.0" y1="1147.7" x2="684.0" y2="1138.0" stroke="#cdcdd0" stroke-width="0.8"/>
<line x1="674.8" y1="1127.0" x2="687.0" y2="1127.0" stroke="#dcdde3" stroke-width="1.1"/>
<line x1="687.0" y1="1127.0" x2="711.0" y2="1165.0" stroke="#dcdde3" stroke-width="1.1"/>
<circle cx="713.2" cy="1168.0" r="4.2" fill="none" stroke="#dcdde3" stroke-width="1.2"/>
<line x1="708.0" y1="1045.0" x2="716.0" y2="1053.0" stroke="#dcdde3" stroke-width="1.2"/>
<line x1="716.0" y1="1045.0" x2="708.0" y2="1053.0" stroke="#dcdde3" stroke-width="1.2"/>
<path d="M 356 1295.3 Q 385 1296 399.8 1310.6" fill="none" stroke="#dcdde3" stroke-width="1.1"/>
<polyline points="398.5,1310.0 358.6,1346.8 362.4,1347.0" fill="none" stroke="#dcdde3" stroke-width="1.2"/>
<line x1="395.5" y1="1307.5" x2="356.5" y2="1344.0" stroke="#dcdde3" stroke-width="1.1"/>
<rect x="432.5" y="1059.5" width="8.0" height="12.0" fill="#ececec"/>
<line x1="434.5" y1="1069.5" x2="438.5" y2="1061.5" stroke="#b8b8c0" stroke-width="0.8"/>
<rect x="432.0" y="1278.5" width="8.0" height="12.5" fill="#ececec"/>
<line x1="434.0" y1="1289.0" x2="438.0" y2="1280.5" stroke="#b8b8c0" stroke-width="0.8"/>
<rect x="692.0" y="1270.5" width="8.0" height="12.5" fill="#ececec"/>
<line x1="694.0" y1="1281.0" x2="698.0" y2="1272.5" stroke="#b8b8c0" stroke-width="0.8"/>
<rect x="366.5" y="1183.5" width="9.5" height="13.0" fill="#ececec"/>
<line x1="368.5" y1="1194.5" x2="374.0" y2="1185.5" stroke="#b8b8c0" stroke-width="0.8"/>
<rect x="789.0" y="1183.0" width="9.0" height="13.5" fill="#ececec"/>
<line x1="791.0" y1="1194.5" x2="796.0" y2="1185.0" stroke="#b8b8c0" stroke-width="0.8"/>
<rect x="391.0" y="1365.0" width="10.5" height="11.5" fill="#ececec"/>
<line x1="393.0" y1="1374.5" x2="399.5" y2="1367.0" stroke="#b8b8c0" stroke-width="0.8"/>
<rect x="765.0" y="1365.0" width="11.0" height="11.5" fill="#ececec"/>
<line x1="767.0" y1="1374.5" x2="774.0" y2="1367.0" stroke="#b8b8c0" stroke-width="0.8"/>
<rect x="355.5" y="1398.0" width="10.5" height="12.0" fill="#ececec"/>
<line x1="357.5" y1="1408.0" x2="364.0" y2="1400.0" stroke="#b8b8c0" stroke-width="0.8"/>
<rect x="793.0" y="1398.0" width="10.0" height="12.0" fill="#ececec"/>
<line x1="795.0" y1="1408.0" x2="801.0" y2="1400.0" stroke="#b8b8c0" stroke-width="0.8"/>
<rect x="809.0" y="1222.5" width="11.0" height="12.5" fill="#ececec"/>
<line x1="811.0" y1="1233.0" x2="818.0" y2="1224.5" stroke="#b8b8c0" stroke-width="0.8"/>
<rect x="1208.8" y="1220.5" width="11.0" height="12.5" fill="#ececec"/>
<line x1="1210.8" y1="1231.0" x2="1217.8" y2="1222.5" stroke="#b8b8c0" stroke-width="0.8"/>
<line x1="805.4" y1="1153.5" x2="805.4" y2="1390.0" stroke="#dcdde3" stroke-width="1.2"/>
<line x1="805.4" y1="1236.0" x2="1222.6" y2="1236.0" stroke="#dcdde3" stroke-width="1.3"/>
<line x1="805.4" y1="1242.4" x2="1222.6" y2="1242.4" stroke="#dcdde3" stroke-width="1.3"/>
<line x1="805.4" y1="1239.2" x2="1222.6" y2="1239.2" stroke="#dcdde3" stroke-width="1.6" stroke-dasharray="14 5 4 5"/>
<line x1="805.4" y1="1252.3" x2="1222.6" y2="1252.3" stroke="#dcdde3" stroke-width="1.2"/>
<rect x="936.0" y="1230.9" width="16.6" height="16.6" fill="none" stroke="#dcdde3" stroke-width="1.2"/>
<rect x="1075.3" y="1230.9" width="16.7" height="16.6" fill="none" stroke="#dcdde3" stroke-width="1.2"/>
<rect x="1215.0" y="1236.0" width="14.0" height="7.0" fill="#e8e8e8"/>
<text x="985.2" y="1231.8" font-size="11.6" fill="#e4e4ea" font-family="Liberation Sans" font-weight="normal" text-anchor="start" textLength="46.4" lengthAdjust="spacing">(2) 2x10</text>
<line x1="1104.0" y1="1161.2" x2="1104.0" y2="1231.9" stroke="#dcdde3" stroke-width="1.2"/>
<polygon points="1104.0,1161.2 1105.8,1168.2 1102.2,1168.2" fill="#dcdde3" stroke="#dcdde3" stroke-width="0.8"/>
<polygon points="1104.0,1231.9 1102.2,1224.9 1105.8,1224.9" fill="#dcdde3" stroke="#dcdde3" stroke-width="0.8"/>
<g transform="translate(1100.8 1198.0) rotate(-90)"><text x="-21.3" y="0" font-size="11.6" fill="#e4e4ea" font-family="Liberation Sans" textLength="42.6" lengthAdjust="spacing">2x6 CJ</text></g>
<g transform="translate(1115.4 1198.0) rotate(-90)"><text x="-28.6" y="0" font-size="11.6" fill="#e4e4ea" font-family="Liberation Sans" textLength="57.2" lengthAdjust="spacingAndGlyphs">@ 16" O.C.</text></g>
<line x1="945.9" y1="1249.8" x2="971.6" y2="1309.9" stroke="#dcdde3" stroke-width="1.1"/>
<line x1="971.6" y1="1309.9" x2="993.3" y2="1309.9" stroke="#dcdde3" stroke-width="1.1"/>
<polygon points="945.9,1249.8 950.3,1255.5 947.0,1256.9" fill="#dcdde3" stroke="#dcdde3" stroke-width="0.8"/>
<text x="997.3" y="1314.6" font-size="11.4" fill="#e4e4ea" font-family="Liberation Sans" font-weight="normal" text-anchor="start" textLength="308.8" lengthAdjust="spacing">4x4 TRT'D POST (OR EQUIV.) (TYP.) ATTACH RAFTERS</text>
<text x="1003.8" y="1329.3" font-size="11.4" fill="#e4e4ea" font-family="Liberation Sans" font-weight="normal" text-anchor="start" textLength="296.5" lengthAdjust="spacingAndGlyphs">AT PORCH WITH HURRICANE CONNECTORS (SIMPSON</text>
<text x="1009.6" y="1344.0" font-size="11.4" fill="#e4e4ea" font-family="Liberation Sans" font-weight="normal" text-anchor="start" textLength="284.2" lengthAdjust="spacing">H2.5A OR EQUIV.) ATTACH HEADER TO POST AND</text>
<text x="1022.6" y="1358.7" font-size="11.4" fill="#e4e4ea" font-family="Liberation Sans" font-weight="normal" text-anchor="start" textLength="257.3" lengthAdjust="spacing">POST TO BASE WITH A POST CAP OR METAL</text>
<text x="1007.8" y="1373.2" font-size="11.4" fill="#e4e4ea" font-family="Liberation Sans" font-weight="normal" text-anchor="start" textLength="288.4" lengthAdjust="spacing">STRAP(S) OR BRACKET(S), AND/OR A POST BASE.</text>
<text x="1666.0" y="157.6" font-size="21.4" fill="#cfd0d7" font-family="Liberation Sans" font-weight="normal" text-anchor="start" textLength="148.0" lengthAdjust="spacingAndGlyphs">FRAMING NOTES</text>
<line x1="1666.0" y1="159.8" x2="1815.0" y2="159.8" stroke="#dcdde3" stroke-width="1.3"/>
<text x="1666.0" y="173.0" font-size="13" fill="#e4e4ea" font-family="Liberation Sans" font-weight="normal" text-anchor="start" textLength="114.6" lengthAdjust="spacing">Wind: 115-120 mph</text>
<text x="1691.0" y="200.7" font-size="11.7" fill="#e4e4ea" font-family="Liberation Sans" font-weight="normal" text-anchor="start" textLength="406.2" lengthAdjust="spacingAndGlyphs">BRACING METHOD AND TYPE: CONTINUOUSLY SHEATHED WSP: CS-WSP.</text>
<text x="1691.0" y="214.8" font-size="11.7" fill="#e4e4ea" font-family="Liberation Sans" font-weight="normal" text-anchor="start" textLength="383.4" lengthAdjust="spacingAndGlyphs">NOTE THAT THE WALL BRACING AMOUNT PROVIDED ON THE PLANS</text>
<text x="1691.0" y="228.9" font-size="11.7" fill="#e4e4ea" font-family="Liberation Sans" font-weight="normal" text-anchor="start" textLength="386.7" lengthAdjust="spacingAndGlyphs">(DETAILS AND SPECIFICATIONS) IS GREATER THAN THE AMOUNT OF</text>
<text x="1691.0" y="243.0" font-size="11.7" fill="#e4e4ea" font-family="Liberation Sans" font-weight="normal" text-anchor="start" textLength="386.2" lengthAdjust="spacingAndGlyphs">WALL BRACING REQUIRED BY SECTION R602.10 OF THE CODE. SEE</text>
<text x="1691.0" y="257.1" font-size="11.7" fill="#e4e4ea" font-family="Liberation Sans" font-weight="normal" text-anchor="start" textLength="353.3" lengthAdjust="spacingAndGlyphs">NOTES BELOW FOR DETAILS AND SPECIFICATIONS FOR WALL</text>
<text x="1691.0" y="271.2" font-size="11.7" fill="#e4e4ea" font-family="Liberation Sans" font-weight="normal" text-anchor="start" textLength="175.1" lengthAdjust="spacingAndGlyphs">BRACING AND WALL FRAMING.</text>
<text x="1666.0" y="200.7" font-size="11.7" fill="#e4e4ea" font-family="Liberation Sans" font-weight="normal" text-anchor="start">1.</text>
<text x="1691.0" y="298.3" font-size="11.7" fill="#e4e4ea" font-family="Liberation Sans" font-weight="normal" text-anchor="start" textLength="408.6" lengthAdjust="spacingAndGlyphs">EXTERIOR WALL SHEATHING: WALLS SHALL BE BRACED BY SHEATHING</text>
<text x="1691.0" y="312.4" font-size="11.7" fill="#e4e4ea" font-family="Liberation Sans" font-weight="normal" text-anchor="start" textLength="393.3" lengthAdjust="spacingAndGlyphs">WALLS ON ALL STORIES WITH WOOD STRUCTURAL PANEL SHEATHING</text>
<text x="1691.0" y="326.5" font-size="11.7" fill="#e4e4ea" font-family="Liberation Sans" font-weight="normal" text-anchor="start" textLength="402.7" lengthAdjust="spacingAndGlyphs">(WSP) (EXPOSURE B: 7/16". EXPOSURE C: 15/32"). SHEATHING SHALL BE</text>
<text x="1691.0" y="340.6" font-size="11.7" fill="#e4e4ea" font-family="Liberation Sans" font-weight="normal" text-anchor="start" textLength="385.8" lengthAdjust="spacing">ATTACHED WITH 8d NAILS AT A 6"/12" NAILING PATTERN (6" OC AT</text>
<text x="1691.0" y="354.7" font-size="11.7" fill="#e4e4ea" font-family="Liberation Sans" font-weight="normal" text-anchor="start" textLength="379.2" lengthAdjust="spacingAndGlyphs">PANEL EDGES AND 12" OC AT INTERMEDIATE SUPPORTS). INSTALL</text>
<text x="1691.0" y="368.8" font-size="11.7" fill="#e4e4ea" font-family="Liberation Sans" font-weight="normal" text-anchor="start" textLength="193.5" lengthAdjust="spacing">BLOCKING AT ALL PANEL EDGES.</text>
<text x="1666.0" y="298.3" font-size="11.7" fill="#e4e4ea" font-family="Liberation Sans" font-weight="normal" text-anchor="start">2.</text>
<text x="1691.0" y="398.2" font-size="11.7" fill="#e4e4ea" font-family="Liberation Sans" font-weight="normal" text-anchor="start" textLength="402.2" lengthAdjust="spacingAndGlyphs">WSP SHEATHING SHALL EXTEND TO THE UPPERMOST DOUBLE BEARING</text>
<text x="1691.0" y="412.3" font-size="11.7" fill="#e4e4ea" font-family="Liberation Sans" font-weight="normal" text-anchor="start" textLength="373.3" lengthAdjust="spacing">PLATE. BLOCK AT ROOF PER SECTION R602.10.4.5 AND ATTACH</text>
<text x="1691.0" y="426.4" font-size="11.7" fill="#e4e4ea" font-family="Liberation Sans" font-weight="normal" text-anchor="start" textLength="402.2" lengthAdjust="spacingAndGlyphs">BRACED WALLS PER CODE. WSP SHEATHING BETWEEN FLOORS SHALL</text>
<text x="1691.0" y="440.5" font-size="11.7" fill="#e4e4ea" font-family="Liberation Sans" font-weight="normal" text-anchor="start" textLength="394.0" lengthAdjust="spacingAndGlyphs">BE SPLICED ALONG CONTINUOUS BAND OR THE WSP SHEATHING MAY</text>
<text x="1691.0" y="454.6" font-size="11.7" fill="#e4e4ea" font-family="Liberation Sans" font-weight="normal" text-anchor="start" textLength="389.3" lengthAdjust="spacingAndGlyphs">BE SPLICED ACROSS STUDS (CONTINUOUS ACROSS FLOOR SYSTEM)</text>
<text x="1691.0" y="468.7" font-size="11.7" fill="#e4e4ea" font-family="Liberation Sans" font-weight="normal" text-anchor="start" textLength="367.0" lengthAdjust="spacingAndGlyphs">WITH BLOCKING AT PANEL EDGES. (MINIMUM 12" BEYOND FLOOR</text>
<text x="1691.0" y="482.8" font-size="11.7" fill="#e4e4ea" font-family="Liberation Sans" font-weight="normal" text-anchor="start" textLength="232.3" lengthAdjust="spacingAndGlyphs">BREAK) OR OTHER APPROVED METHOD.</text>
<text x="1666.0" y="398.2" font-size="11.7" fill="#e4e4ea" font-family="Liberation Sans" font-weight="normal" text-anchor="start">3.</text>
<text x="1691.0" y="512.6" font-size="11.7" fill="#e4e4ea" font-family="Liberation Sans" font-weight="normal" text-anchor="start" textLength="383.4" lengthAdjust="spacingAndGlyphs">"HD" = HOLDOWN: HOLD-DOWN DEVICE (NOTED AS "HD" ON PLANS)</text>
<text x="1691.0" y="526.7" font-size="11.7" fill="#e4e4ea" font-family="Liberation Sans" font-weight="normal" text-anchor="start" textLength="408.6" lengthAdjust="spacing">SHALL BE AN 800 POUND CAPACITY ASSEMBLY AS NOTED ON PLANS.</text>
<text x="1691.0" y="540.8" font-size="11.7" fill="#e4e4ea" font-family="Liberation Sans" font-weight="normal" text-anchor="start" textLength="193.5" lengthAdjust="spacing">SEE DETAILS FOR HD ASSEMBLY.</text>
<text x="1666.0" y="512.6" font-size="11.7" fill="#e4e4ea" font-family="Liberation Sans" font-weight="normal" text-anchor="start">4.</text>
<text x="1691.0" y="554.9" font-size="11.7" fill="#e4e4ea" font-family="Liberation Sans" font-weight="normal" text-anchor="start" textLength="402.7" lengthAdjust="spacingAndGlyphs">**GROUND/FIRST FLOOR:  USE "HD HOLD-DOWN DETAIL" ON SD SHEET</text>
<text x="1691.0" y="569.0" font-size="11.7" fill="#e4e4ea" font-family="Liberation Sans" font-weight="normal" text-anchor="start" textLength="64.7" lengthAdjust="spacingAndGlyphs">(OR EQUIV.)</text>
<text x="1691.0" y="583.2" font-size="11.7" fill="#e4e4ea" font-family="Liberation Sans" font-weight="normal" text-anchor="start" textLength="408.1" lengthAdjust="spacing">**UPPER FLOORS: ATTACH BASE OF KING STUD WITH A SIMPSON CS22</text>
<text x="1691.0" y="597.3" font-size="11.7" fill="#e4e4ea" font-family="Liberation Sans" font-weight="normal" text-anchor="start" textLength="390.5" lengthAdjust="spacingAndGlyphs">STRAP DOWN ACROSS THE BAND AND DOWN TO A STUD BELOW OR</text>
<text x="1691.0" y="611.4" font-size="11.7" fill="#e4e4ea" font-family="Liberation Sans" font-weight="normal" text-anchor="start" textLength="367.4" lengthAdjust="spacingAndGlyphs">HEADER BELOW.  EXTEND STRAP 7" MIN ALONG EACH STUD (OR</text>
<text x="1691.0" y="625.5" font-size="11.7" fill="#e4e4ea" font-family="Liberation Sans" font-weight="normal" text-anchor="start" textLength="289.9" lengthAdjust="spacing">HEADER) AND ATTACH EACH END W/ (7) 8d NAILS.</text>
<text x="1691.0" y="655.3" font-size="11.7" fill="#e4e4ea" font-family="Liberation Sans" font-weight="normal" text-anchor="start" textLength="386.7" lengthAdjust="spacing">INTERIOR BRACED WALL: (NOTED AS "IBW" ON PLANS) ATTACH 1/2"</text>
<text x="1691.0" y="669.4" font-size="11.7" fill="#e4e4ea" font-family="Liberation Sans" font-weight="normal" text-anchor="start" textLength="375.0" lengthAdjust="spacing">GYPSUM BOARD (GB) ON EACH SIDE OF WALL WITH A MIN. OF 5d</text>
<text x="1691.0" y="683.5" font-size="11.7" fill="#e4e4ea" font-family="Liberation Sans" font-weight="normal" text-anchor="start" textLength="394.5" lengthAdjust="spacing">COOLER NAILS OR #6 SCREWS @ 7" O.C. ALONG THE EDGES AND AT</text>
<text x="1691.0" y="697.6" font-size="11.7" fill="#e4e4ea" font-family="Liberation Sans" font-weight="normal" text-anchor="start" textLength="147.6" lengthAdjust="spacingAndGlyphs">INTERMEDIATE SUPPORTS.</text>
<text x="1666.0" y="655.3" font-size="11.7" fill="#e4e4ea" font-family="Liberation Sans" font-weight="normal" text-anchor="start">5.</text>
<text x="1691.0" y="727.0" font-size="11.7" fill="#e4e4ea" font-family="Liberation Sans" font-weight="normal" text-anchor="start" textLength="371.0" lengthAdjust="spacingAndGlyphs">INTERIOR BRACED WALL-WOOD STRUCTURAL PANEL: (NOTED AS</text>
<text x="1691.0" y="741.1" font-size="11.7" fill="#e4e4ea" font-family="Liberation Sans" font-weight="normal" text-anchor="start" textLength="381.0" lengthAdjust="spacingAndGlyphs">"IBW-WSP" ON PLANS). ATTACH ONE SIDE WITH 7/16" WSP SHEATHING</text>
<text x="1691.0" y="755.2" font-size="11.7" fill="#e4e4ea" font-family="Liberation Sans" font-weight="normal" text-anchor="start" textLength="405.5" lengthAdjust="spacing">WITH 8d NAILS AT A 6"/12" NAILING PATTERN (6" OC AT PANEL EDGES</text>
<text x="1691.0" y="769.3" font-size="11.7" fill="#e4e4ea" font-family="Liberation Sans" font-weight="normal" text-anchor="start" textLength="405.0" lengthAdjust="spacing">AND 12" OC AT INTERMEDIATE SUPPORTS). INSTALL BLOCKING AT ALL</text>
<text x="1691.0" y="783.4" font-size="11.7" fill="#e4e4ea" font-family="Liberation Sans" font-weight="normal" text-anchor="start" textLength="356.2" lengthAdjust="spacing">PANEL EDGES. ATTACH GB OVER WSP AS REQUIRED. ATTACH</text>
<text x="1691.0" y="797.5" font-size="11.7" fill="#e4e4ea" font-family="Liberation Sans" font-weight="normal" text-anchor="start" textLength="403.9" lengthAdjust="spacing">OPPOSITE SIDE WITH 1/2" GB WITH A MIN. OF 5d COOLER NAILS OR #6</text>
<text x="1691.0" y="811.6" font-size="11.7" fill="#e4e4ea" font-family="Liberation Sans" font-weight="normal" text-anchor="start" textLength="346.3" lengthAdjust="spacingAndGlyphs">SCREWS @ 7" OC ALONG THE EDGES AND AT INTERMEDIATE</text>
<text x="1691.0" y="825.7" font-size="11.7" fill="#e4e4ea" font-family="Liberation Sans" font-weight="normal" text-anchor="start" textLength="61.4" lengthAdjust="spacingAndGlyphs">SUPPORTS.</text>
<text x="1666.0" y="727.0" font-size="11.7" fill="#e4e4ea" font-family="Liberation Sans" font-weight="normal" text-anchor="start">6.</text>
<circle cx="1668.8" cy="550.9" r="2.2" fill="#e4e4ea" stroke="None" stroke-width="1.4"/>
<circle cx="1668.8" cy="579.2" r="2.2" fill="#e4e4ea" stroke="None" stroke-width="1.4"/>
<line x1="1691.0" y1="513.5" x2="1791.0" y2="513.5" stroke="#dcdde3" stroke-width="1.0"/>
<line x1="1691.0" y1="556.5" x2="1835.0" y2="556.5" stroke="#dcdde3" stroke-width="1.0"/>
<line x1="1691.0" y1="585.0" x2="1795.0" y2="585.0" stroke="#dcdde3" stroke-width="1.0"/>
<line x1="1694.6" y1="743.7" x2="1743.4" y2="743.7" stroke="#dcdde3" stroke-width="1.0"/>
<line x1="1912.7" y1="656.4" x2="1932.7" y2="656.4" stroke="#dcdde3" stroke-width="1.0"/>
<text x="1700.7" y="908.7" font-size="18.4" fill="#cfd0d7" font-family="Liberation Sans" font-weight="normal" text-anchor="start" textLength="299.8" lengthAdjust="spacingAndGlyphs">HEADER/BEAM &amp; COLUMN NOTES</text>
<line x1="1700.7" y1="911.6" x2="2001.0" y2="911.6" stroke="#dcdde3" stroke-width="1.3"/>
<text x="1725.0" y="938.9" font-size="11.7" fill="#e4e4ea" font-family="Liberation Sans" font-weight="normal" text-anchor="start" textLength="265.4" lengthAdjust="spacing">ALL EXTERIOR AND LOAD BEARING HEADERS</text>
<text x="1725.0" y="953.5" font-size="11.7" fill="#e4e4ea" font-family="Liberation Sans" font-weight="normal" text-anchor="start" textLength="275.5" lengthAdjust="spacing">SHALL BE MIN. (2)2x10 (4" WALL) OR (3)2x10 (6"</text>
<text x="1725.0" y="968.1" font-size="11.7" fill="#e4e4ea" font-family="Liberation Sans" font-weight="normal" text-anchor="start" textLength="259.6" lengthAdjust="spacingAndGlyphs">WALL) WITH (1) SUPPORT STUD, UNLESS NOTED</text>
<text x="1725.0" y="982.7" font-size="11.7" fill="#e4e4ea" font-family="Liberation Sans" font-weight="normal" text-anchor="start" textLength="65.9" lengthAdjust="spacingAndGlyphs">OTHERWISE.</text>
<text x="1700.7" y="938.9" font-size="11.7" fill="#e4e4ea" font-family="Liberation Sans" font-weight="normal" text-anchor="start">1.</text>
<text x="1725.0" y="1009.7" font-size="11.7" fill="#e4e4ea" font-family="Liberation Sans" font-weight="normal" text-anchor="start" textLength="250.0" lengthAdjust="spacingAndGlyphs">THE NUMBER SHOWN AT BEAM AND HEADER</text>
<text x="1725.0" y="1024.3" font-size="11.7" fill="#e4e4ea" font-family="Liberation Sans" font-weight="normal" text-anchor="start" textLength="274.7" lengthAdjust="spacingAndGlyphs">SUPPORTS INDICATES THE NUMBER OF SUPPORT</text>
<text x="1725.0" y="1038.4" font-size="11.7" fill="#e4e4ea" font-family="Liberation Sans" font-weight="normal" text-anchor="start" textLength="271.3" lengthAdjust="spacingAndGlyphs">STUDS REQUIRED IN STUD POCKET OR COLUMN.</text>
<text x="1725.0" y="1052.2" font-size="11.7" fill="#e4e4ea" font-family="Liberation Sans" font-weight="normal" text-anchor="start" textLength="265.4" lengthAdjust="spacingAndGlyphs">THE NUMBER OF KING STUDS AT EACH END OF</text>
<text x="1725.0" y="1066.2" font-size="11.7" fill="#e4e4ea" font-family="Liberation Sans" font-weight="normal" text-anchor="start" textLength="234.1" lengthAdjust="spacingAndGlyphs">HEADERS IN EXTERIOR WALLS SHALL BE</text>
<text x="1725.0" y="1080.0" font-size="11.7" fill="#e4e4ea" font-family="Liberation Sans" font-weight="normal" text-anchor="start" textLength="258.8" lengthAdjust="spacing">ACCORDING TO ITEM "d" IN TABLE R602.3(5)</text>
<text x="1725.0" y="1094.6" font-size="11.7" fill="#e4e4ea" font-family="Liberation Sans" font-weight="normal" text-anchor="start" textLength="85.0" lengthAdjust="spacing">OR AS BELOW:</text>
<text x="1700.7" y="1009.7" font-size="11.7" fill="#e4e4ea" font-family="Liberation Sans" font-weight="normal" text-anchor="start">2.</text>
<text x="1749.5" y="1107.9" font-size="11.7" fill="#e4e4ea" font-family="Liberation Sans" font-weight="normal" text-anchor="start" textLength="168.0" lengthAdjust="spacingAndGlyphs">UP TO 4' SPAN: (1) KING STUD</text>
<text x="1749.5" y="1122.5" font-size="11.7" fill="#e4e4ea" font-family="Liberation Sans" font-weight="normal" text-anchor="start" textLength="232.4" lengthAdjust="spacing">OVER 4' UP TO 8' SPAN: (2) KING STUDS</text>
<text x="1749.5" y="1137.9" font-size="11.7" fill="#e4e4ea" font-family="Liberation Sans" font-weight="normal" text-anchor="start" textLength="231.6" lengthAdjust="spacing">OVER 8' UP TO 11' SPAN: (3) KING STUDS</text>
<text x="1749.5" y="1152.5" font-size="11.7" fill="#e4e4ea" font-family="Liberation Sans" font-weight="normal" text-anchor="start" textLength="178.6" lengthAdjust="spacingAndGlyphs">OVER 11' SPAN: (4) KING STUDS</text>
<circle cx="1710.5" cy="1103.4" r="2.0" fill="#e4e4ea" stroke="None" stroke-width="1.4"/>
<circle cx="1715.2" cy="1103.4" r="2.0" fill="#e4e4ea" stroke="None" stroke-width="1.4"/>
<circle cx="1710.5" cy="1118.0" r="2.0" fill="#e4e4ea" stroke="None" stroke-width="1.4"/>
<circle cx="1715.2" cy="1118.0" r="2.0" fill="#e4e4ea" stroke="None" stroke-width="1.4"/>
<circle cx="1710.5" cy="1133.4" r="2.0" fill="#e4e4ea" stroke="None" stroke-width="1.4"/>
<circle cx="1715.2" cy="1133.4" r="2.0" fill="#e4e4ea" stroke="None" stroke-width="1.4"/>
<circle cx="1710.5" cy="1148.0" r="2.0" fill="#e4e4ea" stroke="None" stroke-width="1.4"/>
<circle cx="1715.2" cy="1148.0" r="2.0" fill="#e4e4ea" stroke="None" stroke-width="1.4"/>
<rect x="1711.3" y="1203.7" width="220.2" height="102.1" fill="none" stroke="#dcdde3" stroke-width="1.4"/>
<text x="1756.4" y="1229.7" font-size="18.4" fill="#cfd0d7" font-family="Liberation Sans" font-weight="normal" text-anchor="start" textLength="125.2" lengthAdjust="spacingAndGlyphs">WHOLE HOUSE</text>
<line x1="1756.4" y1="1231.8" x2="1882.0" y2="1231.8" stroke="#dcdde3" stroke-width="1.2"/>
<text x="1730.4" y="1250.7" font-size="18.4" fill="#cfd0d7" font-family="Liberation Sans" font-weight="normal" text-anchor="start" textLength="179.1" lengthAdjust="spacingAndGlyphs">BRACING SUMMARY</text>
<line x1="1730.4" y1="1252.6" x2="1910.0" y2="1252.6" stroke="#dcdde3" stroke-width="1.2"/>
<text x="1726.4" y="1266.9" font-size="13.2" fill="#e4e4ea" font-family="Liberation Sans" font-weight="normal" text-anchor="start" textLength="187.1" lengthAdjust="spacingAndGlyphs">TOTAL REQUIRED BRACING: 56</text>
<text x="1723.8" y="1281.4" font-size="13.2" fill="#e4e4ea" font-family="Liberation Sans" font-weight="normal" text-anchor="start" textLength="191.8" lengthAdjust="spacingAndGlyphs">TOTAL PROVIDED BRACING: 88</text>
<text x="1793.6" y="1296.0" font-size="13.2" fill="#e4e4ea" font-family="Liberation Sans" font-weight="normal" text-anchor="start" textLength="52.2" lengthAdjust="spacingAndGlyphs">(IN FEET)</text>
<text x="1666.3" y="1629.8" font-size="27" fill="#d4d5dc" font-family="Liberation Sans" font-weight="normal" text-anchor="start" textLength="449.7" lengthAdjust="spacing">FIRST FLOOR STRUCTURAL PLAN</text>
<line x1="1666.0" y1="1633.8" x2="2117.0" y2="1633.8" stroke="#dcdde3" stroke-width="1.6"/>
<text x="1972.0" y="1659.5" font-size="18.5" fill="#d4d5dc" font-family="Liberation Sans" font-weight="normal" text-anchor="start" textLength="145.0" lengthAdjust="spacingAndGlyphs">SCALE: 1/4"=1'-0"</text>
<text x="1675.0" y="1677.6" font-size="13" fill="#e4e4ea" font-family="Liberation Sans" font-weight="normal" text-anchor="start" textLength="440.0" lengthAdjust="spacingAndGlyphs">REFER TO "SD" SHEET(S) FOR STANDARD DETAILS AND STRUCTURAL NOTES</text>
<line x1="2134.5" y1="24.0" x2="2134.5" y2="1703.5" stroke="#a0a4b4" stroke-width="1.6"/>
</svg></body></html>
